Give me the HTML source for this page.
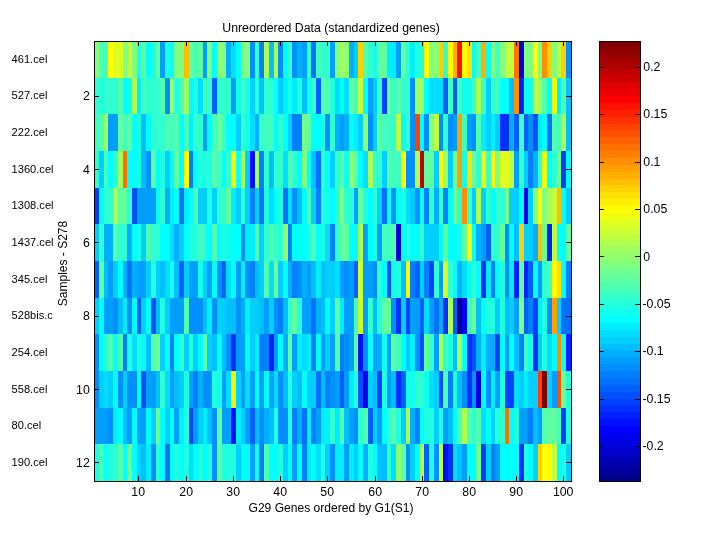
<!DOCTYPE html>
<html><head><meta charset="utf-8"><style>
html,body{margin:0;padding:0;background:#fff;width:720px;height:540px;overflow:hidden}
svg{display:block;will-change:transform}
</style></head><body>
<svg width="720" height="540" viewBox="0 0 720 540" shape-rendering="crispEdges">
<rect width="720" height="540" fill="#fff"/>
<g><rect x="94" y="41" width="5" height="37" fill="#80ff80"/>
<rect x="99" y="41" width="5" height="37" fill="#50ffaf"/>
<rect x="104" y="41" width="4" height="37" fill="#40ffbf"/>
<rect x="108" y="41" width="5" height="37" fill="#ffff00"/>
<rect x="113" y="41" width="5" height="37" fill="#dfff20"/>
<rect x="118" y="41" width="5" height="37" fill="#dfff20"/>
<rect x="123" y="41" width="4" height="37" fill="#80ff80"/>
<rect x="127" y="41" width="5" height="37" fill="#bfff40"/>
<rect x="132" y="41" width="5" height="37" fill="#80ff80"/>
<rect x="137" y="41" width="4" height="37" fill="#20ffdf"/>
<rect x="141" y="41" width="5" height="37" fill="#60ff9f"/>
<rect x="146" y="41" width="5" height="37" fill="#00ffff"/>
<rect x="151" y="41" width="5" height="37" fill="#20ffdf"/>
<rect x="156" y="41" width="4" height="37" fill="#60ff9f"/>
<rect x="160" y="41" width="5" height="37" fill="#009fff"/>
<rect x="165" y="41" width="5" height="37" fill="#20ffdf"/>
<rect x="170" y="41" width="4" height="37" fill="#00ffff"/>
<rect x="174" y="41" width="5" height="37" fill="#80ff80"/>
<rect x="179" y="41" width="5" height="37" fill="#80ff80"/>
<rect x="184" y="41" width="5" height="37" fill="#ffbf00"/>
<rect x="189" y="41" width="4" height="37" fill="#60ff9f"/>
<rect x="193" y="41" width="5" height="37" fill="#40ffbf"/>
<rect x="198" y="41" width="5" height="37" fill="#60ff9f"/>
<rect x="203" y="41" width="4" height="37" fill="#009fff"/>
<rect x="207" y="41" width="5" height="37" fill="#80ff80"/>
<rect x="212" y="41" width="5" height="37" fill="#00ffff"/>
<rect x="217" y="41" width="5" height="37" fill="#8fff70"/>
<rect x="222" y="41" width="4" height="37" fill="#80ff80"/>
<rect x="226" y="41" width="5" height="37" fill="#00afff"/>
<rect x="231" y="41" width="5" height="37" fill="#00dfff"/>
<rect x="236" y="41" width="5" height="37" fill="#00ffff"/>
<rect x="241" y="41" width="4" height="37" fill="#80ff80"/>
<rect x="245" y="41" width="5" height="37" fill="#80ff80"/>
<rect x="250" y="41" width="5" height="37" fill="#008fff"/>
<rect x="255" y="41" width="4" height="37" fill="#30ffcf"/>
<rect x="259" y="41" width="5" height="37" fill="#0080ff"/>
<rect x="264" y="41" width="5" height="37" fill="#afff50"/>
<rect x="269" y="41" width="5" height="37" fill="#00bfff"/>
<rect x="274" y="41" width="4" height="37" fill="#afff50"/>
<rect x="278" y="41" width="5" height="37" fill="#008fff"/>
<rect x="283" y="41" width="5" height="37" fill="#00ffff"/>
<rect x="288" y="41" width="4" height="37" fill="#30ffcf"/>
<rect x="292" y="41" width="5" height="37" fill="#008fff"/>
<rect x="297" y="41" width="5" height="37" fill="#00afff"/>
<rect x="302" y="41" width="5" height="37" fill="#009fff"/>
<rect x="307" y="41" width="4" height="37" fill="#30ffcf"/>
<rect x="311" y="41" width="5" height="37" fill="#0070ff"/>
<rect x="316" y="41" width="5" height="37" fill="#40ffbf"/>
<rect x="321" y="41" width="4" height="37" fill="#30ffcf"/>
<rect x="325" y="41" width="5" height="37" fill="#30ffcf"/>
<rect x="330" y="41" width="5" height="37" fill="#009fff"/>
<rect x="335" y="41" width="5" height="37" fill="#80ff80"/>
<rect x="340" y="41" width="4" height="37" fill="#9fff60"/>
<rect x="344" y="41" width="5" height="37" fill="#8fff70"/>
<rect x="349" y="41" width="5" height="37" fill="#00afff"/>
<rect x="354" y="41" width="4" height="37" fill="#00cfff"/>
<rect x="358" y="41" width="5" height="37" fill="#ffcf00"/>
<rect x="363" y="41" width="5" height="37" fill="#50ffaf"/>
<rect x="368" y="41" width="5" height="37" fill="#30ffcf"/>
<rect x="373" y="41" width="4" height="37" fill="#10ffef"/>
<rect x="377" y="41" width="5" height="37" fill="#60ff9f"/>
<rect x="382" y="41" width="5" height="37" fill="#60ff9f"/>
<rect x="387" y="41" width="4" height="37" fill="#00efff"/>
<rect x="391" y="41" width="5" height="37" fill="#00efff"/>
<rect x="396" y="41" width="5" height="37" fill="#009fff"/>
<rect x="401" y="41" width="5" height="37" fill="#60ff9f"/>
<rect x="406" y="41" width="4" height="37" fill="#30ffcf"/>
<rect x="410" y="41" width="5" height="37" fill="#00efff"/>
<rect x="415" y="41" width="5" height="37" fill="#20ffdf"/>
<rect x="420" y="41" width="4" height="37" fill="#20ffdf"/>
<rect x="424" y="41" width="5" height="37" fill="#ffff00"/>
<rect x="429" y="41" width="5" height="37" fill="#80ff80"/>
<rect x="434" y="41" width="5" height="37" fill="#8fff70"/>
<rect x="439" y="41" width="4" height="37" fill="#ffcf00"/>
<rect x="443" y="41" width="5" height="37" fill="#30ffcf"/>
<rect x="448" y="41" width="5" height="37" fill="#ffff00"/>
<rect x="453" y="41" width="4" height="37" fill="#ffaf00"/>
<rect x="457" y="41" width="5" height="37" fill="#ff1000"/>
<rect x="462" y="41" width="5" height="37" fill="#ffff00"/>
<rect x="467" y="41" width="5" height="37" fill="#ffdf00"/>
<rect x="472" y="41" width="4" height="37" fill="#00ffff"/>
<rect x="476" y="41" width="5" height="37" fill="#40ffbf"/>
<rect x="481" y="41" width="5" height="37" fill="#ffaf00"/>
<rect x="486" y="41" width="5" height="37" fill="#10ffef"/>
<rect x="491" y="41" width="4" height="37" fill="#80ff80"/>
<rect x="495" y="41" width="5" height="37" fill="#40ffbf"/>
<rect x="500" y="41" width="5" height="37" fill="#80ff80"/>
<rect x="505" y="41" width="4" height="37" fill="#bfff40"/>
<rect x="509" y="41" width="5" height="37" fill="#bfff40"/>
<rect x="514" y="41" width="5" height="37" fill="#ff7000"/>
<rect x="519" y="41" width="5" height="37" fill="#0000df"/>
<rect x="524" y="41" width="4" height="37" fill="#80ff80"/>
<rect x="528" y="41" width="5" height="37" fill="#80ff80"/>
<rect x="533" y="41" width="5" height="37" fill="#ffff00"/>
<rect x="538" y="41" width="4" height="37" fill="#80ff80"/>
<rect x="542" y="41" width="5" height="37" fill="#ff8f00"/>
<rect x="547" y="41" width="5" height="37" fill="#ffcf00"/>
<rect x="552" y="41" width="5" height="37" fill="#80ff80"/>
<rect x="557" y="41" width="4" height="37" fill="#bfff40"/>
<rect x="561" y="41" width="5" height="37" fill="#ffcf00"/>
<rect x="566" y="41" width="5" height="37" fill="#008fff"/>
<rect x="94" y="78" width="5" height="36" fill="#30ffcf"/>
<rect x="99" y="78" width="5" height="36" fill="#20ffdf"/>
<rect x="104" y="78" width="4" height="36" fill="#30ffcf"/>
<rect x="108" y="78" width="5" height="36" fill="#30ffcf"/>
<rect x="113" y="78" width="5" height="36" fill="#30ffcf"/>
<rect x="118" y="78" width="5" height="36" fill="#50ffaf"/>
<rect x="123" y="78" width="4" height="36" fill="#00ffff"/>
<rect x="127" y="78" width="5" height="36" fill="#10ffef"/>
<rect x="132" y="78" width="5" height="36" fill="#afff50"/>
<rect x="137" y="78" width="4" height="36" fill="#00efff"/>
<rect x="141" y="78" width="5" height="36" fill="#40ffbf"/>
<rect x="146" y="78" width="5" height="36" fill="#30ffcf"/>
<rect x="151" y="78" width="5" height="36" fill="#30ffcf"/>
<rect x="156" y="78" width="4" height="36" fill="#30ffcf"/>
<rect x="160" y="78" width="5" height="36" fill="#50ffaf"/>
<rect x="165" y="78" width="5" height="36" fill="#008fff"/>
<rect x="170" y="78" width="4" height="36" fill="#9fff60"/>
<rect x="174" y="78" width="5" height="36" fill="#20ffdf"/>
<rect x="179" y="78" width="5" height="36" fill="#50ffaf"/>
<rect x="184" y="78" width="5" height="36" fill="#9fff60"/>
<rect x="189" y="78" width="4" height="36" fill="#00ffff"/>
<rect x="193" y="78" width="5" height="36" fill="#20ffdf"/>
<rect x="198" y="78" width="5" height="36" fill="#00dfff"/>
<rect x="203" y="78" width="4" height="36" fill="#40ffbf"/>
<rect x="207" y="78" width="5" height="36" fill="#30ffcf"/>
<rect x="212" y="78" width="5" height="36" fill="#0060ff"/>
<rect x="217" y="78" width="5" height="36" fill="#30ffcf"/>
<rect x="222" y="78" width="4" height="36" fill="#30ffcf"/>
<rect x="226" y="78" width="5" height="36" fill="#30ffcf"/>
<rect x="231" y="78" width="5" height="36" fill="#009fff"/>
<rect x="236" y="78" width="5" height="36" fill="#10ffef"/>
<rect x="241" y="78" width="4" height="36" fill="#40ffbf"/>
<rect x="245" y="78" width="5" height="36" fill="#10ffef"/>
<rect x="250" y="78" width="5" height="36" fill="#00cfff"/>
<rect x="255" y="78" width="4" height="36" fill="#20ffdf"/>
<rect x="259" y="78" width="5" height="36" fill="#00bfff"/>
<rect x="264" y="78" width="5" height="36" fill="#30ffcf"/>
<rect x="269" y="78" width="5" height="36" fill="#30ffcf"/>
<rect x="274" y="78" width="4" height="36" fill="#00ffff"/>
<rect x="278" y="78" width="5" height="36" fill="#00cfff"/>
<rect x="283" y="78" width="5" height="36" fill="#00efff"/>
<rect x="288" y="78" width="4" height="36" fill="#10ffef"/>
<rect x="292" y="78" width="5" height="36" fill="#00efff"/>
<rect x="297" y="78" width="5" height="36" fill="#20ffdf"/>
<rect x="302" y="78" width="5" height="36" fill="#00bfff"/>
<rect x="307" y="78" width="4" height="36" fill="#10ffef"/>
<rect x="311" y="78" width="5" height="36" fill="#30ffcf"/>
<rect x="316" y="78" width="5" height="36" fill="#0060ff"/>
<rect x="321" y="78" width="4" height="36" fill="#50ffaf"/>
<rect x="325" y="78" width="5" height="36" fill="#50ffaf"/>
<rect x="330" y="78" width="5" height="36" fill="#20ffdf"/>
<rect x="335" y="78" width="5" height="36" fill="#00dfff"/>
<rect x="340" y="78" width="4" height="36" fill="#00ffff"/>
<rect x="344" y="78" width="5" height="36" fill="#00dfff"/>
<rect x="349" y="78" width="5" height="36" fill="#60ff9f"/>
<rect x="354" y="78" width="4" height="36" fill="#40ffbf"/>
<rect x="358" y="78" width="5" height="36" fill="#cfff30"/>
<rect x="363" y="78" width="5" height="36" fill="#00ffff"/>
<rect x="368" y="78" width="5" height="36" fill="#009fff"/>
<rect x="373" y="78" width="4" height="36" fill="#00cfff"/>
<rect x="377" y="78" width="5" height="36" fill="#30ffcf"/>
<rect x="382" y="78" width="5" height="36" fill="#0040ff"/>
<rect x="387" y="78" width="4" height="36" fill="#60ff9f"/>
<rect x="391" y="78" width="5" height="36" fill="#30ffcf"/>
<rect x="396" y="78" width="5" height="36" fill="#50ffaf"/>
<rect x="401" y="78" width="5" height="36" fill="#30ffcf"/>
<rect x="406" y="78" width="4" height="36" fill="#30ffcf"/>
<rect x="410" y="78" width="5" height="36" fill="#008fff"/>
<rect x="415" y="78" width="5" height="36" fill="#9fff60"/>
<rect x="420" y="78" width="4" height="36" fill="#9fff60"/>
<rect x="424" y="78" width="5" height="36" fill="#00ffff"/>
<rect x="429" y="78" width="5" height="36" fill="#00dfff"/>
<rect x="434" y="78" width="5" height="36" fill="#00dfff"/>
<rect x="439" y="78" width="4" height="36" fill="#00dfff"/>
<rect x="443" y="78" width="5" height="36" fill="#0060ff"/>
<rect x="448" y="78" width="5" height="36" fill="#40ffbf"/>
<rect x="453" y="78" width="4" height="36" fill="#0060ff"/>
<rect x="457" y="78" width="5" height="36" fill="#40ffbf"/>
<rect x="462" y="78" width="5" height="36" fill="#10ffef"/>
<rect x="467" y="78" width="5" height="36" fill="#10ffef"/>
<rect x="472" y="78" width="4" height="36" fill="#40ffbf"/>
<rect x="476" y="78" width="5" height="36" fill="#afff50"/>
<rect x="481" y="78" width="5" height="36" fill="#40ffbf"/>
<rect x="486" y="78" width="5" height="36" fill="#00cfff"/>
<rect x="491" y="78" width="4" height="36" fill="#30ffcf"/>
<rect x="495" y="78" width="5" height="36" fill="#40ffbf"/>
<rect x="500" y="78" width="5" height="36" fill="#00ffff"/>
<rect x="505" y="78" width="4" height="36" fill="#00ffff"/>
<rect x="509" y="78" width="5" height="36" fill="#00bfff"/>
<rect x="514" y="78" width="5" height="36" fill="#ff8f00"/>
<rect x="519" y="78" width="5" height="36" fill="#0020ff"/>
<rect x="524" y="78" width="4" height="36" fill="#10ffef"/>
<rect x="528" y="78" width="5" height="36" fill="#10ffef"/>
<rect x="533" y="78" width="5" height="36" fill="#bfff40"/>
<rect x="538" y="78" width="4" height="36" fill="#9fff60"/>
<rect x="542" y="78" width="5" height="36" fill="#50ffaf"/>
<rect x="547" y="78" width="5" height="36" fill="#00ffff"/>
<rect x="552" y="78" width="5" height="36" fill="#efff10"/>
<rect x="557" y="78" width="4" height="36" fill="#00efff"/>
<rect x="561" y="78" width="5" height="36" fill="#50ffaf"/>
<rect x="566" y="78" width="5" height="36" fill="#00bfff"/>
<rect x="94" y="114" width="5" height="37" fill="#40ffbf"/>
<rect x="99" y="114" width="5" height="37" fill="#50ffaf"/>
<rect x="104" y="114" width="4" height="37" fill="#9fff60"/>
<rect x="108" y="114" width="5" height="37" fill="#009fff"/>
<rect x="113" y="114" width="5" height="37" fill="#009fff"/>
<rect x="118" y="114" width="5" height="37" fill="#60ff9f"/>
<rect x="123" y="114" width="4" height="37" fill="#40ffbf"/>
<rect x="127" y="114" width="5" height="37" fill="#60ff9f"/>
<rect x="132" y="114" width="5" height="37" fill="#00ffff"/>
<rect x="137" y="114" width="4" height="37" fill="#20ffdf"/>
<rect x="141" y="114" width="5" height="37" fill="#00bfff"/>
<rect x="146" y="114" width="5" height="37" fill="#00ffff"/>
<rect x="151" y="114" width="5" height="37" fill="#30ffcf"/>
<rect x="156" y="114" width="4" height="37" fill="#30ffcf"/>
<rect x="160" y="114" width="5" height="37" fill="#30ffcf"/>
<rect x="165" y="114" width="5" height="37" fill="#50ffaf"/>
<rect x="170" y="114" width="4" height="37" fill="#40ffbf"/>
<rect x="174" y="114" width="5" height="37" fill="#50ffaf"/>
<rect x="179" y="114" width="5" height="37" fill="#00ffff"/>
<rect x="184" y="114" width="5" height="37" fill="#40ffbf"/>
<rect x="189" y="114" width="4" height="37" fill="#00efff"/>
<rect x="193" y="114" width="5" height="37" fill="#30ffcf"/>
<rect x="198" y="114" width="5" height="37" fill="#30ffcf"/>
<rect x="203" y="114" width="4" height="37" fill="#009fff"/>
<rect x="207" y="114" width="5" height="37" fill="#00ffff"/>
<rect x="212" y="114" width="5" height="37" fill="#40ffbf"/>
<rect x="217" y="114" width="5" height="37" fill="#70ff8f"/>
<rect x="222" y="114" width="4" height="37" fill="#40ffbf"/>
<rect x="226" y="114" width="5" height="37" fill="#00ffff"/>
<rect x="231" y="114" width="5" height="37" fill="#00ffff"/>
<rect x="236" y="114" width="5" height="37" fill="#00cfff"/>
<rect x="241" y="114" width="4" height="37" fill="#30ffcf"/>
<rect x="245" y="114" width="5" height="37" fill="#10ffef"/>
<rect x="250" y="114" width="5" height="37" fill="#00dfff"/>
<rect x="255" y="114" width="4" height="37" fill="#00afff"/>
<rect x="259" y="114" width="5" height="37" fill="#30ffcf"/>
<rect x="264" y="114" width="5" height="37" fill="#40ffbf"/>
<rect x="269" y="114" width="5" height="37" fill="#40ffbf"/>
<rect x="274" y="114" width="4" height="37" fill="#00ffff"/>
<rect x="278" y="114" width="5" height="37" fill="#30ffcf"/>
<rect x="283" y="114" width="5" height="37" fill="#00ffff"/>
<rect x="288" y="114" width="4" height="37" fill="#00cfff"/>
<rect x="292" y="114" width="5" height="37" fill="#0080ff"/>
<rect x="297" y="114" width="5" height="37" fill="#0080ff"/>
<rect x="302" y="114" width="5" height="37" fill="#70ff8f"/>
<rect x="307" y="114" width="4" height="37" fill="#60ff9f"/>
<rect x="311" y="114" width="5" height="37" fill="#00ffff"/>
<rect x="316" y="114" width="5" height="37" fill="#00ffff"/>
<rect x="321" y="114" width="4" height="37" fill="#20ffdf"/>
<rect x="325" y="114" width="5" height="37" fill="#008fff"/>
<rect x="330" y="114" width="5" height="37" fill="#30ffcf"/>
<rect x="335" y="114" width="5" height="37" fill="#00afff"/>
<rect x="340" y="114" width="4" height="37" fill="#009fff"/>
<rect x="344" y="114" width="5" height="37" fill="#00afff"/>
<rect x="349" y="114" width="5" height="37" fill="#00ffff"/>
<rect x="354" y="114" width="4" height="37" fill="#00efff"/>
<rect x="358" y="114" width="5" height="37" fill="#00cfff"/>
<rect x="363" y="114" width="5" height="37" fill="#8fff70"/>
<rect x="368" y="114" width="5" height="37" fill="#008fff"/>
<rect x="373" y="114" width="4" height="37" fill="#00cfff"/>
<rect x="377" y="114" width="5" height="37" fill="#60ff9f"/>
<rect x="382" y="114" width="5" height="37" fill="#40ffbf"/>
<rect x="387" y="114" width="4" height="37" fill="#40ffbf"/>
<rect x="391" y="114" width="5" height="37" fill="#30ffcf"/>
<rect x="396" y="114" width="5" height="37" fill="#bfff40"/>
<rect x="401" y="114" width="5" height="37" fill="#00ffff"/>
<rect x="406" y="114" width="4" height="37" fill="#30ffcf"/>
<rect x="410" y="114" width="5" height="37" fill="#008fff"/>
<rect x="415" y="114" width="5" height="37" fill="#ff4000"/>
<rect x="420" y="114" width="4" height="37" fill="#00ffff"/>
<rect x="424" y="114" width="5" height="37" fill="#008fff"/>
<rect x="429" y="114" width="5" height="37" fill="#80ff80"/>
<rect x="434" y="114" width="5" height="37" fill="#bfff40"/>
<rect x="439" y="114" width="4" height="37" fill="#008fff"/>
<rect x="443" y="114" width="5" height="37" fill="#30ffcf"/>
<rect x="448" y="114" width="5" height="37" fill="#008fff"/>
<rect x="453" y="114" width="4" height="37" fill="#009fff"/>
<rect x="457" y="114" width="5" height="37" fill="#ff9f00"/>
<rect x="462" y="114" width="5" height="37" fill="#40ffbf"/>
<rect x="467" y="114" width="5" height="37" fill="#009fff"/>
<rect x="472" y="114" width="4" height="37" fill="#008fff"/>
<rect x="476" y="114" width="5" height="37" fill="#50ffaf"/>
<rect x="481" y="114" width="5" height="37" fill="#00efff"/>
<rect x="486" y="114" width="5" height="37" fill="#00cfff"/>
<rect x="491" y="114" width="4" height="37" fill="#00efff"/>
<rect x="495" y="114" width="5" height="37" fill="#00cfff"/>
<rect x="500" y="114" width="5" height="37" fill="#0030ff"/>
<rect x="505" y="114" width="4" height="37" fill="#0030ff"/>
<rect x="509" y="114" width="5" height="37" fill="#00afff"/>
<rect x="514" y="114" width="5" height="37" fill="#0060ff"/>
<rect x="519" y="114" width="5" height="37" fill="#40ffbf"/>
<rect x="524" y="114" width="4" height="37" fill="#0060ff"/>
<rect x="528" y="114" width="5" height="37" fill="#008fff"/>
<rect x="533" y="114" width="5" height="37" fill="#0050ff"/>
<rect x="538" y="114" width="4" height="37" fill="#00efff"/>
<rect x="542" y="114" width="5" height="37" fill="#00ffff"/>
<rect x="547" y="114" width="5" height="37" fill="#0070ff"/>
<rect x="552" y="114" width="5" height="37" fill="#50ffaf"/>
<rect x="557" y="114" width="4" height="37" fill="#40ffbf"/>
<rect x="561" y="114" width="5" height="37" fill="#afff50"/>
<rect x="566" y="114" width="5" height="37" fill="#00bfff"/>
<rect x="94" y="151" width="5" height="37" fill="#30ffcf"/>
<rect x="99" y="151" width="5" height="37" fill="#00cfff"/>
<rect x="104" y="151" width="4" height="37" fill="#40ffbf"/>
<rect x="108" y="151" width="5" height="37" fill="#00ffff"/>
<rect x="113" y="151" width="5" height="37" fill="#30ffcf"/>
<rect x="118" y="151" width="5" height="37" fill="#9fff60"/>
<rect x="123" y="151" width="4" height="37" fill="#ff7000"/>
<rect x="127" y="151" width="5" height="37" fill="#00ffff"/>
<rect x="132" y="151" width="5" height="37" fill="#00ffff"/>
<rect x="137" y="151" width="4" height="37" fill="#20ffdf"/>
<rect x="141" y="151" width="5" height="37" fill="#00bfff"/>
<rect x="146" y="151" width="5" height="37" fill="#008fff"/>
<rect x="151" y="151" width="5" height="37" fill="#60ff9f"/>
<rect x="156" y="151" width="4" height="37" fill="#00ffff"/>
<rect x="160" y="151" width="5" height="37" fill="#20ffdf"/>
<rect x="165" y="151" width="5" height="37" fill="#00cfff"/>
<rect x="170" y="151" width="4" height="37" fill="#00ffff"/>
<rect x="174" y="151" width="5" height="37" fill="#60ff9f"/>
<rect x="179" y="151" width="5" height="37" fill="#00ffff"/>
<rect x="184" y="151" width="5" height="37" fill="#ffff00"/>
<rect x="189" y="151" width="4" height="37" fill="#0080ff"/>
<rect x="193" y="151" width="5" height="37" fill="#00ffff"/>
<rect x="198" y="151" width="5" height="37" fill="#20ffdf"/>
<rect x="203" y="151" width="4" height="37" fill="#20ffdf"/>
<rect x="207" y="151" width="5" height="37" fill="#20ffdf"/>
<rect x="212" y="151" width="5" height="37" fill="#50ffaf"/>
<rect x="217" y="151" width="5" height="37" fill="#40ffbf"/>
<rect x="222" y="151" width="4" height="37" fill="#00ffff"/>
<rect x="226" y="151" width="5" height="37" fill="#30ffcf"/>
<rect x="231" y="151" width="5" height="37" fill="#ffff00"/>
<rect x="236" y="151" width="5" height="37" fill="#10ffef"/>
<rect x="241" y="151" width="4" height="37" fill="#afff50"/>
<rect x="245" y="151" width="5" height="37" fill="#00cfff"/>
<rect x="250" y="151" width="5" height="37" fill="#0010ff"/>
<rect x="255" y="151" width="4" height="37" fill="#9fff60"/>
<rect x="259" y="151" width="5" height="37" fill="#0080ff"/>
<rect x="264" y="151" width="5" height="37" fill="#30ffcf"/>
<rect x="269" y="151" width="5" height="37" fill="#00bfff"/>
<rect x="274" y="151" width="4" height="37" fill="#30ffcf"/>
<rect x="278" y="151" width="5" height="37" fill="#30ffcf"/>
<rect x="283" y="151" width="5" height="37" fill="#00dfff"/>
<rect x="288" y="151" width="4" height="37" fill="#50ffaf"/>
<rect x="292" y="151" width="5" height="37" fill="#30ffcf"/>
<rect x="297" y="151" width="5" height="37" fill="#00ffff"/>
<rect x="302" y="151" width="5" height="37" fill="#80ff80"/>
<rect x="307" y="151" width="4" height="37" fill="#00ffff"/>
<rect x="311" y="151" width="5" height="37" fill="#00bfff"/>
<rect x="316" y="151" width="5" height="37" fill="#0070ff"/>
<rect x="321" y="151" width="4" height="37" fill="#30ffcf"/>
<rect x="325" y="151" width="5" height="37" fill="#00ffff"/>
<rect x="330" y="151" width="5" height="37" fill="#00cfff"/>
<rect x="335" y="151" width="5" height="37" fill="#30ffcf"/>
<rect x="340" y="151" width="4" height="37" fill="#50ffaf"/>
<rect x="344" y="151" width="5" height="37" fill="#10ffef"/>
<rect x="349" y="151" width="5" height="37" fill="#8fff70"/>
<rect x="354" y="151" width="4" height="37" fill="#60ff9f"/>
<rect x="358" y="151" width="5" height="37" fill="#00ffff"/>
<rect x="363" y="151" width="5" height="37" fill="#00dfff"/>
<rect x="368" y="151" width="5" height="37" fill="#afff50"/>
<rect x="373" y="151" width="4" height="37" fill="#30ffcf"/>
<rect x="377" y="151" width="5" height="37" fill="#30ffcf"/>
<rect x="382" y="151" width="5" height="37" fill="#00cfff"/>
<rect x="387" y="151" width="4" height="37" fill="#50ffaf"/>
<rect x="391" y="151" width="5" height="37" fill="#40ffbf"/>
<rect x="396" y="151" width="5" height="37" fill="#40ffbf"/>
<rect x="401" y="151" width="5" height="37" fill="#ffff00"/>
<rect x="406" y="151" width="4" height="37" fill="#008fff"/>
<rect x="410" y="151" width="5" height="37" fill="#008fff"/>
<rect x="415" y="151" width="5" height="37" fill="#afff50"/>
<rect x="420" y="151" width="4" height="37" fill="#bf0000"/>
<rect x="424" y="151" width="5" height="37" fill="#60ff9f"/>
<rect x="429" y="151" width="5" height="37" fill="#60ff9f"/>
<rect x="434" y="151" width="5" height="37" fill="#00cfff"/>
<rect x="439" y="151" width="4" height="37" fill="#ffff00"/>
<rect x="443" y="151" width="5" height="37" fill="#9fff60"/>
<rect x="448" y="151" width="5" height="37" fill="#00cfff"/>
<rect x="453" y="151" width="4" height="37" fill="#70ff8f"/>
<rect x="457" y="151" width="5" height="37" fill="#ff9f00"/>
<rect x="462" y="151" width="5" height="37" fill="#10ffef"/>
<rect x="467" y="151" width="5" height="37" fill="#ffdf00"/>
<rect x="472" y="151" width="4" height="37" fill="#60ff9f"/>
<rect x="476" y="151" width="5" height="37" fill="#30ffcf"/>
<rect x="481" y="151" width="5" height="37" fill="#efff10"/>
<rect x="486" y="151" width="5" height="37" fill="#40ffbf"/>
<rect x="491" y="151" width="4" height="37" fill="#ffff00"/>
<rect x="495" y="151" width="5" height="37" fill="#80ff80"/>
<rect x="500" y="151" width="5" height="37" fill="#dfff20"/>
<rect x="505" y="151" width="4" height="37" fill="#dfff20"/>
<rect x="509" y="151" width="5" height="37" fill="#bfff40"/>
<rect x="514" y="151" width="5" height="37" fill="#009fff"/>
<rect x="519" y="151" width="5" height="37" fill="#30ffcf"/>
<rect x="524" y="151" width="4" height="37" fill="#00cfff"/>
<rect x="528" y="151" width="5" height="37" fill="#0080ff"/>
<rect x="533" y="151" width="5" height="37" fill="#00afff"/>
<rect x="538" y="151" width="4" height="37" fill="#30ffcf"/>
<rect x="542" y="151" width="5" height="37" fill="#efff10"/>
<rect x="547" y="151" width="5" height="37" fill="#00ffff"/>
<rect x="552" y="151" width="5" height="37" fill="#30ffcf"/>
<rect x="557" y="151" width="4" height="37" fill="#70ff8f"/>
<rect x="561" y="151" width="5" height="37" fill="#0040ff"/>
<rect x="566" y="151" width="5" height="37" fill="#00ffff"/>
<rect x="94" y="188" width="5" height="36" fill="#0040ff"/>
<rect x="99" y="188" width="5" height="36" fill="#00ffff"/>
<rect x="104" y="188" width="4" height="36" fill="#30ffcf"/>
<rect x="108" y="188" width="5" height="36" fill="#30ffcf"/>
<rect x="113" y="188" width="5" height="36" fill="#afff50"/>
<rect x="118" y="188" width="5" height="36" fill="#60ff9f"/>
<rect x="123" y="188" width="4" height="36" fill="#60ff9f"/>
<rect x="127" y="188" width="5" height="36" fill="#30ffcf"/>
<rect x="132" y="188" width="5" height="36" fill="#0050ff"/>
<rect x="137" y="188" width="4" height="36" fill="#009fff"/>
<rect x="141" y="188" width="5" height="36" fill="#009fff"/>
<rect x="146" y="188" width="5" height="36" fill="#009fff"/>
<rect x="151" y="188" width="5" height="36" fill="#009fff"/>
<rect x="156" y="188" width="4" height="36" fill="#00ffff"/>
<rect x="160" y="188" width="5" height="36" fill="#30ffcf"/>
<rect x="165" y="188" width="5" height="36" fill="#00afff"/>
<rect x="170" y="188" width="4" height="36" fill="#00efff"/>
<rect x="174" y="188" width="5" height="36" fill="#00ffff"/>
<rect x="179" y="188" width="5" height="36" fill="#0070ff"/>
<rect x="184" y="188" width="5" height="36" fill="#00efff"/>
<rect x="189" y="188" width="4" height="36" fill="#00ffff"/>
<rect x="193" y="188" width="5" height="36" fill="#50ffaf"/>
<rect x="198" y="188" width="5" height="36" fill="#00cfff"/>
<rect x="203" y="188" width="4" height="36" fill="#00cfff"/>
<rect x="207" y="188" width="5" height="36" fill="#20ffdf"/>
<rect x="212" y="188" width="5" height="36" fill="#00cfff"/>
<rect x="217" y="188" width="5" height="36" fill="#30ffcf"/>
<rect x="222" y="188" width="4" height="36" fill="#30ffcf"/>
<rect x="226" y="188" width="5" height="36" fill="#60ff9f"/>
<rect x="231" y="188" width="5" height="36" fill="#00efff"/>
<rect x="236" y="188" width="5" height="36" fill="#00cfff"/>
<rect x="241" y="188" width="4" height="36" fill="#30ffcf"/>
<rect x="245" y="188" width="5" height="36" fill="#00cfff"/>
<rect x="250" y="188" width="5" height="36" fill="#0080ff"/>
<rect x="255" y="188" width="4" height="36" fill="#00cfff"/>
<rect x="259" y="188" width="5" height="36" fill="#0070ff"/>
<rect x="264" y="188" width="5" height="36" fill="#20ffdf"/>
<rect x="269" y="188" width="5" height="36" fill="#00dfff"/>
<rect x="274" y="188" width="4" height="36" fill="#00ffff"/>
<rect x="278" y="188" width="5" height="36" fill="#20ffdf"/>
<rect x="283" y="188" width="5" height="36" fill="#0070ff"/>
<rect x="288" y="188" width="4" height="36" fill="#00dfff"/>
<rect x="292" y="188" width="5" height="36" fill="#008fff"/>
<rect x="297" y="188" width="5" height="36" fill="#00bfff"/>
<rect x="302" y="188" width="5" height="36" fill="#00ffff"/>
<rect x="307" y="188" width="4" height="36" fill="#50ffaf"/>
<rect x="311" y="188" width="5" height="36" fill="#00cfff"/>
<rect x="316" y="188" width="5" height="36" fill="#0080ff"/>
<rect x="321" y="188" width="4" height="36" fill="#20ffdf"/>
<rect x="325" y="188" width="5" height="36" fill="#10ffef"/>
<rect x="330" y="188" width="5" height="36" fill="#00ffff"/>
<rect x="335" y="188" width="5" height="36" fill="#30ffcf"/>
<rect x="340" y="188" width="4" height="36" fill="#80ff80"/>
<rect x="344" y="188" width="5" height="36" fill="#30ffcf"/>
<rect x="349" y="188" width="5" height="36" fill="#20ffdf"/>
<rect x="354" y="188" width="4" height="36" fill="#009fff"/>
<rect x="358" y="188" width="5" height="36" fill="#60ff9f"/>
<rect x="363" y="188" width="5" height="36" fill="#20ffdf"/>
<rect x="368" y="188" width="5" height="36" fill="#00ffff"/>
<rect x="373" y="188" width="4" height="36" fill="#30ffcf"/>
<rect x="377" y="188" width="5" height="36" fill="#00cfff"/>
<rect x="382" y="188" width="5" height="36" fill="#0070ff"/>
<rect x="387" y="188" width="4" height="36" fill="#00ffff"/>
<rect x="391" y="188" width="5" height="36" fill="#008fff"/>
<rect x="396" y="188" width="5" height="36" fill="#00ffff"/>
<rect x="401" y="188" width="5" height="36" fill="#20ffdf"/>
<rect x="406" y="188" width="4" height="36" fill="#00dfff"/>
<rect x="410" y="188" width="5" height="36" fill="#00cfff"/>
<rect x="415" y="188" width="5" height="36" fill="#008fff"/>
<rect x="420" y="188" width="4" height="36" fill="#00ffff"/>
<rect x="424" y="188" width="5" height="36" fill="#0080ff"/>
<rect x="429" y="188" width="5" height="36" fill="#30ffcf"/>
<rect x="434" y="188" width="5" height="36" fill="#00afff"/>
<rect x="439" y="188" width="4" height="36" fill="#30ffcf"/>
<rect x="443" y="188" width="5" height="36" fill="#0080ff"/>
<rect x="448" y="188" width="5" height="36" fill="#00ffff"/>
<rect x="453" y="188" width="4" height="36" fill="#70ff8f"/>
<rect x="457" y="188" width="5" height="36" fill="#30ffcf"/>
<rect x="462" y="188" width="5" height="36" fill="#ff8f00"/>
<rect x="467" y="188" width="5" height="36" fill="#30ffcf"/>
<rect x="472" y="188" width="4" height="36" fill="#00cfff"/>
<rect x="476" y="188" width="5" height="36" fill="#afff50"/>
<rect x="481" y="188" width="5" height="36" fill="#00cfff"/>
<rect x="486" y="188" width="5" height="36" fill="#30ffcf"/>
<rect x="491" y="188" width="4" height="36" fill="#00ffff"/>
<rect x="495" y="188" width="5" height="36" fill="#30ffcf"/>
<rect x="500" y="188" width="5" height="36" fill="#30ffcf"/>
<rect x="505" y="188" width="4" height="36" fill="#80ff80"/>
<rect x="509" y="188" width="5" height="36" fill="#00cfff"/>
<rect x="514" y="188" width="5" height="36" fill="#00cfff"/>
<rect x="519" y="188" width="5" height="36" fill="#00ffff"/>
<rect x="524" y="188" width="4" height="36" fill="#0000ef"/>
<rect x="528" y="188" width="5" height="36" fill="#00cfff"/>
<rect x="533" y="188" width="5" height="36" fill="#80ff80"/>
<rect x="538" y="188" width="4" height="36" fill="#ffff00"/>
<rect x="542" y="188" width="5" height="36" fill="#80ff80"/>
<rect x="547" y="188" width="5" height="36" fill="#afff50"/>
<rect x="552" y="188" width="5" height="36" fill="#bfff40"/>
<rect x="557" y="188" width="4" height="36" fill="#ffbf00"/>
<rect x="561" y="188" width="5" height="36" fill="#00ffff"/>
<rect x="566" y="188" width="5" height="36" fill="#00cfff"/>
<rect x="94" y="224" width="5" height="37" fill="#00cfff"/>
<rect x="99" y="224" width="5" height="37" fill="#30ffcf"/>
<rect x="104" y="224" width="4" height="37" fill="#00afff"/>
<rect x="108" y="224" width="5" height="37" fill="#00afff"/>
<rect x="113" y="224" width="5" height="37" fill="#50ffaf"/>
<rect x="118" y="224" width="5" height="37" fill="#30ffcf"/>
<rect x="123" y="224" width="4" height="37" fill="#30ffcf"/>
<rect x="127" y="224" width="5" height="37" fill="#00afff"/>
<rect x="132" y="224" width="5" height="37" fill="#00ffff"/>
<rect x="137" y="224" width="4" height="37" fill="#20ffdf"/>
<rect x="141" y="224" width="5" height="37" fill="#00cfff"/>
<rect x="146" y="224" width="5" height="37" fill="#50ffaf"/>
<rect x="151" y="224" width="5" height="37" fill="#30ffcf"/>
<rect x="156" y="224" width="4" height="37" fill="#30ffcf"/>
<rect x="160" y="224" width="5" height="37" fill="#00ffff"/>
<rect x="165" y="224" width="5" height="37" fill="#00ffff"/>
<rect x="170" y="224" width="4" height="37" fill="#00dfff"/>
<rect x="174" y="224" width="5" height="37" fill="#00afff"/>
<rect x="179" y="224" width="5" height="37" fill="#00cfff"/>
<rect x="184" y="224" width="5" height="37" fill="#00ffff"/>
<rect x="189" y="224" width="4" height="37" fill="#20ffdf"/>
<rect x="193" y="224" width="5" height="37" fill="#20ffdf"/>
<rect x="198" y="224" width="5" height="37" fill="#40ffbf"/>
<rect x="203" y="224" width="4" height="37" fill="#20ffdf"/>
<rect x="207" y="224" width="5" height="37" fill="#00ffff"/>
<rect x="212" y="224" width="5" height="37" fill="#50ffaf"/>
<rect x="217" y="224" width="5" height="37" fill="#00ffff"/>
<rect x="222" y="224" width="4" height="37" fill="#20ffdf"/>
<rect x="226" y="224" width="5" height="37" fill="#10ffef"/>
<rect x="231" y="224" width="5" height="37" fill="#00ffff"/>
<rect x="236" y="224" width="5" height="37" fill="#00ffff"/>
<rect x="241" y="224" width="4" height="37" fill="#008fff"/>
<rect x="245" y="224" width="5" height="37" fill="#00efff"/>
<rect x="250" y="224" width="5" height="37" fill="#00efff"/>
<rect x="255" y="224" width="4" height="37" fill="#50ffaf"/>
<rect x="259" y="224" width="5" height="37" fill="#00cfff"/>
<rect x="264" y="224" width="5" height="37" fill="#30ffcf"/>
<rect x="269" y="224" width="5" height="37" fill="#50ffaf"/>
<rect x="274" y="224" width="4" height="37" fill="#30ffcf"/>
<rect x="278" y="224" width="5" height="37" fill="#30ffcf"/>
<rect x="283" y="224" width="5" height="37" fill="#8fff70"/>
<rect x="288" y="224" width="4" height="37" fill="#0080ff"/>
<rect x="292" y="224" width="5" height="37" fill="#00ffff"/>
<rect x="297" y="224" width="5" height="37" fill="#00ffff"/>
<rect x="302" y="224" width="5" height="37" fill="#00ffff"/>
<rect x="307" y="224" width="4" height="37" fill="#20ffdf"/>
<rect x="311" y="224" width="5" height="37" fill="#50ffaf"/>
<rect x="316" y="224" width="5" height="37" fill="#00ffff"/>
<rect x="321" y="224" width="4" height="37" fill="#20ffdf"/>
<rect x="325" y="224" width="5" height="37" fill="#00dfff"/>
<rect x="330" y="224" width="5" height="37" fill="#0080ff"/>
<rect x="335" y="224" width="5" height="37" fill="#30ffcf"/>
<rect x="340" y="224" width="4" height="37" fill="#60ff9f"/>
<rect x="344" y="224" width="5" height="37" fill="#60ff9f"/>
<rect x="349" y="224" width="5" height="37" fill="#00ffff"/>
<rect x="354" y="224" width="4" height="37" fill="#00ffff"/>
<rect x="358" y="224" width="5" height="37" fill="#afff50"/>
<rect x="363" y="224" width="5" height="37" fill="#009fff"/>
<rect x="368" y="224" width="5" height="37" fill="#00ffff"/>
<rect x="373" y="224" width="4" height="37" fill="#20ffdf"/>
<rect x="377" y="224" width="5" height="37" fill="#009fff"/>
<rect x="382" y="224" width="5" height="37" fill="#40ffbf"/>
<rect x="387" y="224" width="4" height="37" fill="#40ffbf"/>
<rect x="391" y="224" width="5" height="37" fill="#50ffaf"/>
<rect x="396" y="224" width="5" height="37" fill="#0000df"/>
<rect x="401" y="224" width="5" height="37" fill="#00ffff"/>
<rect x="406" y="224" width="4" height="37" fill="#20ffdf"/>
<rect x="410" y="224" width="5" height="37" fill="#00ffff"/>
<rect x="415" y="224" width="5" height="37" fill="#00ffff"/>
<rect x="420" y="224" width="4" height="37" fill="#30ffcf"/>
<rect x="424" y="224" width="5" height="37" fill="#00cfff"/>
<rect x="429" y="224" width="5" height="37" fill="#00cfff"/>
<rect x="434" y="224" width="5" height="37" fill="#00cfff"/>
<rect x="439" y="224" width="4" height="37" fill="#00ffff"/>
<rect x="443" y="224" width="5" height="37" fill="#60ff9f"/>
<rect x="448" y="224" width="5" height="37" fill="#00ffff"/>
<rect x="453" y="224" width="4" height="37" fill="#00ffff"/>
<rect x="457" y="224" width="5" height="37" fill="#10ffef"/>
<rect x="462" y="224" width="5" height="37" fill="#60ff9f"/>
<rect x="467" y="224" width="5" height="37" fill="#ffff00"/>
<rect x="472" y="224" width="4" height="37" fill="#00ffff"/>
<rect x="476" y="224" width="5" height="37" fill="#00afff"/>
<rect x="481" y="224" width="5" height="37" fill="#009fff"/>
<rect x="486" y="224" width="5" height="37" fill="#0060ff"/>
<rect x="491" y="224" width="4" height="37" fill="#30ffcf"/>
<rect x="495" y="224" width="5" height="37" fill="#30ffcf"/>
<rect x="500" y="224" width="5" height="37" fill="#60ff9f"/>
<rect x="505" y="224" width="4" height="37" fill="#008fff"/>
<rect x="509" y="224" width="5" height="37" fill="#00ffff"/>
<rect x="514" y="224" width="5" height="37" fill="#00bfff"/>
<rect x="519" y="224" width="5" height="37" fill="#ffcf00"/>
<rect x="524" y="224" width="4" height="37" fill="#00cfff"/>
<rect x="528" y="224" width="5" height="37" fill="#00cfff"/>
<rect x="533" y="224" width="5" height="37" fill="#00afff"/>
<rect x="538" y="224" width="4" height="37" fill="#ffbf00"/>
<rect x="542" y="224" width="5" height="37" fill="#70ff8f"/>
<rect x="547" y="224" width="5" height="37" fill="#0020ff"/>
<rect x="552" y="224" width="5" height="37" fill="#bfff40"/>
<rect x="557" y="224" width="4" height="37" fill="#00ffff"/>
<rect x="561" y="224" width="5" height="37" fill="#00ffff"/>
<rect x="566" y="224" width="5" height="37" fill="#60ff9f"/>
<rect x="94" y="261" width="5" height="37" fill="#0060ff"/>
<rect x="99" y="261" width="5" height="37" fill="#60ff9f"/>
<rect x="104" y="261" width="4" height="37" fill="#00bfff"/>
<rect x="108" y="261" width="5" height="37" fill="#009fff"/>
<rect x="113" y="261" width="5" height="37" fill="#00cfff"/>
<rect x="118" y="261" width="5" height="37" fill="#00ffff"/>
<rect x="123" y="261" width="4" height="37" fill="#00afff"/>
<rect x="127" y="261" width="5" height="37" fill="#0070ff"/>
<rect x="132" y="261" width="5" height="37" fill="#00afff"/>
<rect x="137" y="261" width="4" height="37" fill="#009fff"/>
<rect x="141" y="261" width="5" height="37" fill="#009fff"/>
<rect x="146" y="261" width="5" height="37" fill="#00cfff"/>
<rect x="151" y="261" width="5" height="37" fill="#20ffdf"/>
<rect x="156" y="261" width="4" height="37" fill="#00cfff"/>
<rect x="160" y="261" width="5" height="37" fill="#00bfff"/>
<rect x="165" y="261" width="5" height="37" fill="#00dfff"/>
<rect x="170" y="261" width="4" height="37" fill="#10ffef"/>
<rect x="174" y="261" width="5" height="37" fill="#00bfff"/>
<rect x="179" y="261" width="5" height="37" fill="#0060ff"/>
<rect x="184" y="261" width="5" height="37" fill="#00cfff"/>
<rect x="189" y="261" width="4" height="37" fill="#009fff"/>
<rect x="193" y="261" width="5" height="37" fill="#009fff"/>
<rect x="198" y="261" width="5" height="37" fill="#10ffef"/>
<rect x="203" y="261" width="4" height="37" fill="#00cfff"/>
<rect x="207" y="261" width="5" height="37" fill="#009fff"/>
<rect x="212" y="261" width="5" height="37" fill="#00ffff"/>
<rect x="217" y="261" width="5" height="37" fill="#008fff"/>
<rect x="222" y="261" width="4" height="37" fill="#0060ff"/>
<rect x="226" y="261" width="5" height="37" fill="#00dfff"/>
<rect x="231" y="261" width="5" height="37" fill="#00ffff"/>
<rect x="236" y="261" width="5" height="37" fill="#009fff"/>
<rect x="241" y="261" width="4" height="37" fill="#00efff"/>
<rect x="245" y="261" width="5" height="37" fill="#008fff"/>
<rect x="250" y="261" width="5" height="37" fill="#0080ff"/>
<rect x="255" y="261" width="4" height="37" fill="#00bfff"/>
<rect x="259" y="261" width="5" height="37" fill="#00cfff"/>
<rect x="264" y="261" width="5" height="37" fill="#50ffaf"/>
<rect x="269" y="261" width="5" height="37" fill="#00dfff"/>
<rect x="274" y="261" width="4" height="37" fill="#70ff8f"/>
<rect x="278" y="261" width="5" height="37" fill="#00cfff"/>
<rect x="283" y="261" width="5" height="37" fill="#00ffff"/>
<rect x="288" y="261" width="4" height="37" fill="#00afff"/>
<rect x="292" y="261" width="5" height="37" fill="#0080ff"/>
<rect x="297" y="261" width="5" height="37" fill="#008fff"/>
<rect x="302" y="261" width="5" height="37" fill="#00afff"/>
<rect x="307" y="261" width="4" height="37" fill="#009fff"/>
<rect x="311" y="261" width="5" height="37" fill="#00bfff"/>
<rect x="316" y="261" width="5" height="37" fill="#00efff"/>
<rect x="321" y="261" width="4" height="37" fill="#00bfff"/>
<rect x="325" y="261" width="5" height="37" fill="#00cfff"/>
<rect x="330" y="261" width="5" height="37" fill="#00cfff"/>
<rect x="335" y="261" width="5" height="37" fill="#00dfff"/>
<rect x="340" y="261" width="4" height="37" fill="#009fff"/>
<rect x="344" y="261" width="5" height="37" fill="#008fff"/>
<rect x="349" y="261" width="5" height="37" fill="#009fff"/>
<rect x="354" y="261" width="4" height="37" fill="#0060ff"/>
<rect x="358" y="261" width="5" height="37" fill="#cfff30"/>
<rect x="363" y="261" width="5" height="37" fill="#009fff"/>
<rect x="368" y="261" width="5" height="37" fill="#009fff"/>
<rect x="373" y="261" width="4" height="37" fill="#008fff"/>
<rect x="377" y="261" width="5" height="37" fill="#30ffcf"/>
<rect x="382" y="261" width="5" height="37" fill="#00ffff"/>
<rect x="387" y="261" width="4" height="37" fill="#0050ff"/>
<rect x="391" y="261" width="5" height="37" fill="#10ffef"/>
<rect x="396" y="261" width="5" height="37" fill="#20ffdf"/>
<rect x="401" y="261" width="5" height="37" fill="#00bfff"/>
<rect x="406" y="261" width="4" height="37" fill="#ffff00"/>
<rect x="410" y="261" width="5" height="37" fill="#0080ff"/>
<rect x="415" y="261" width="5" height="37" fill="#0060ff"/>
<rect x="420" y="261" width="4" height="37" fill="#00cfff"/>
<rect x="424" y="261" width="5" height="37" fill="#0080ff"/>
<rect x="429" y="261" width="5" height="37" fill="#0040ff"/>
<rect x="434" y="261" width="5" height="37" fill="#30ffcf"/>
<rect x="439" y="261" width="4" height="37" fill="#009fff"/>
<rect x="443" y="261" width="5" height="37" fill="#dfff20"/>
<rect x="448" y="261" width="5" height="37" fill="#30ffcf"/>
<rect x="453" y="261" width="4" height="37" fill="#00ffff"/>
<rect x="457" y="261" width="5" height="37" fill="#00afff"/>
<rect x="462" y="261" width="5" height="37" fill="#00dfff"/>
<rect x="467" y="261" width="5" height="37" fill="#00ffff"/>
<rect x="472" y="261" width="4" height="37" fill="#30ffcf"/>
<rect x="476" y="261" width="5" height="37" fill="#00ffff"/>
<rect x="481" y="261" width="5" height="37" fill="#0030ff"/>
<rect x="486" y="261" width="5" height="37" fill="#00efff"/>
<rect x="491" y="261" width="4" height="37" fill="#0080ff"/>
<rect x="495" y="261" width="5" height="37" fill="#00ffff"/>
<rect x="500" y="261" width="5" height="37" fill="#20ffdf"/>
<rect x="505" y="261" width="4" height="37" fill="#008fff"/>
<rect x="509" y="261" width="5" height="37" fill="#00efff"/>
<rect x="514" y="261" width="5" height="37" fill="#0020ff"/>
<rect x="519" y="261" width="5" height="37" fill="#60ff9f"/>
<rect x="524" y="261" width="4" height="37" fill="#0020ff"/>
<rect x="528" y="261" width="5" height="37" fill="#0060ff"/>
<rect x="533" y="261" width="5" height="37" fill="#00ffff"/>
<rect x="538" y="261" width="4" height="37" fill="#009fff"/>
<rect x="542" y="261" width="5" height="37" fill="#30ffcf"/>
<rect x="547" y="261" width="5" height="37" fill="#40ffbf"/>
<rect x="552" y="261" width="5" height="37" fill="#ffff00"/>
<rect x="557" y="261" width="4" height="37" fill="#ffdf00"/>
<rect x="561" y="261" width="5" height="37" fill="#00ffff"/>
<rect x="566" y="261" width="5" height="37" fill="#0080ff"/>
<rect x="94" y="298" width="5" height="36" fill="#00cfff"/>
<rect x="99" y="298" width="5" height="36" fill="#00ffff"/>
<rect x="104" y="298" width="4" height="36" fill="#009fff"/>
<rect x="108" y="298" width="5" height="36" fill="#009fff"/>
<rect x="113" y="298" width="5" height="36" fill="#008fff"/>
<rect x="118" y="298" width="5" height="36" fill="#00bfff"/>
<rect x="123" y="298" width="4" height="36" fill="#00efff"/>
<rect x="127" y="298" width="5" height="36" fill="#008fff"/>
<rect x="132" y="298" width="5" height="36" fill="#00ffff"/>
<rect x="137" y="298" width="4" height="36" fill="#0060ff"/>
<rect x="141" y="298" width="5" height="36" fill="#00cfff"/>
<rect x="146" y="298" width="5" height="36" fill="#00ffff"/>
<rect x="151" y="298" width="5" height="36" fill="#0050ff"/>
<rect x="156" y="298" width="4" height="36" fill="#00bfff"/>
<rect x="160" y="298" width="5" height="36" fill="#20ffdf"/>
<rect x="165" y="298" width="5" height="36" fill="#00cfff"/>
<rect x="170" y="298" width="4" height="36" fill="#009fff"/>
<rect x="174" y="298" width="5" height="36" fill="#009fff"/>
<rect x="179" y="298" width="5" height="36" fill="#009fff"/>
<rect x="184" y="298" width="5" height="36" fill="#50ffaf"/>
<rect x="189" y="298" width="4" height="36" fill="#008fff"/>
<rect x="193" y="298" width="5" height="36" fill="#008fff"/>
<rect x="198" y="298" width="5" height="36" fill="#008fff"/>
<rect x="203" y="298" width="4" height="36" fill="#00bfff"/>
<rect x="207" y="298" width="5" height="36" fill="#00efff"/>
<rect x="212" y="298" width="5" height="36" fill="#008fff"/>
<rect x="217" y="298" width="5" height="36" fill="#00cfff"/>
<rect x="222" y="298" width="4" height="36" fill="#00cfff"/>
<rect x="226" y="298" width="5" height="36" fill="#00bfff"/>
<rect x="231" y="298" width="5" height="36" fill="#00bfff"/>
<rect x="236" y="298" width="5" height="36" fill="#008fff"/>
<rect x="241" y="298" width="4" height="36" fill="#00afff"/>
<rect x="245" y="298" width="5" height="36" fill="#00efff"/>
<rect x="250" y="298" width="5" height="36" fill="#00cfff"/>
<rect x="255" y="298" width="4" height="36" fill="#00cfff"/>
<rect x="259" y="298" width="5" height="36" fill="#00bfff"/>
<rect x="264" y="298" width="5" height="36" fill="#009fff"/>
<rect x="269" y="298" width="5" height="36" fill="#00cfff"/>
<rect x="274" y="298" width="4" height="36" fill="#008fff"/>
<rect x="278" y="298" width="5" height="36" fill="#0080ff"/>
<rect x="283" y="298" width="5" height="36" fill="#00bfff"/>
<rect x="288" y="298" width="4" height="36" fill="#30ffcf"/>
<rect x="292" y="298" width="5" height="36" fill="#60ff9f"/>
<rect x="297" y="298" width="5" height="36" fill="#20ffdf"/>
<rect x="302" y="298" width="5" height="36" fill="#009fff"/>
<rect x="307" y="298" width="4" height="36" fill="#009fff"/>
<rect x="311" y="298" width="5" height="36" fill="#0070ff"/>
<rect x="316" y="298" width="5" height="36" fill="#00afff"/>
<rect x="321" y="298" width="4" height="36" fill="#00bfff"/>
<rect x="325" y="298" width="5" height="36" fill="#00ffff"/>
<rect x="330" y="298" width="5" height="36" fill="#00cfff"/>
<rect x="335" y="298" width="5" height="36" fill="#60ff9f"/>
<rect x="340" y="298" width="4" height="36" fill="#00efff"/>
<rect x="344" y="298" width="5" height="36" fill="#009fff"/>
<rect x="349" y="298" width="5" height="36" fill="#009fff"/>
<rect x="354" y="298" width="4" height="36" fill="#40ffbf"/>
<rect x="358" y="298" width="5" height="36" fill="#cfff30"/>
<rect x="363" y="298" width="5" height="36" fill="#009fff"/>
<rect x="368" y="298" width="5" height="36" fill="#30ffcf"/>
<rect x="373" y="298" width="4" height="36" fill="#00bfff"/>
<rect x="377" y="298" width="5" height="36" fill="#20ffdf"/>
<rect x="382" y="298" width="5" height="36" fill="#60ff9f"/>
<rect x="387" y="298" width="4" height="36" fill="#60ff9f"/>
<rect x="391" y="298" width="5" height="36" fill="#008fff"/>
<rect x="396" y="298" width="5" height="36" fill="#0030ff"/>
<rect x="401" y="298" width="5" height="36" fill="#00cfff"/>
<rect x="406" y="298" width="4" height="36" fill="#0040ff"/>
<rect x="410" y="298" width="5" height="36" fill="#009fff"/>
<rect x="415" y="298" width="5" height="36" fill="#009fff"/>
<rect x="420" y="298" width="4" height="36" fill="#0060ff"/>
<rect x="424" y="298" width="5" height="36" fill="#00dfff"/>
<rect x="429" y="298" width="5" height="36" fill="#009fff"/>
<rect x="434" y="298" width="5" height="36" fill="#0070ff"/>
<rect x="439" y="298" width="4" height="36" fill="#00afff"/>
<rect x="443" y="298" width="5" height="36" fill="#0030ff"/>
<rect x="448" y="298" width="5" height="36" fill="#afff50"/>
<rect x="453" y="298" width="4" height="36" fill="#0060ff"/>
<rect x="457" y="298" width="5" height="36" fill="#00008f"/>
<rect x="462" y="298" width="5" height="36" fill="#0000ff"/>
<rect x="467" y="298" width="5" height="36" fill="#30ffcf"/>
<rect x="472" y="298" width="4" height="36" fill="#70ff8f"/>
<rect x="476" y="298" width="5" height="36" fill="#00bfff"/>
<rect x="481" y="298" width="5" height="36" fill="#00ffff"/>
<rect x="486" y="298" width="5" height="36" fill="#20ffdf"/>
<rect x="491" y="298" width="4" height="36" fill="#20ffdf"/>
<rect x="495" y="298" width="5" height="36" fill="#00cfff"/>
<rect x="500" y="298" width="5" height="36" fill="#20ffdf"/>
<rect x="505" y="298" width="4" height="36" fill="#00bfff"/>
<rect x="509" y="298" width="5" height="36" fill="#00cfff"/>
<rect x="514" y="298" width="5" height="36" fill="#009fff"/>
<rect x="519" y="298" width="5" height="36" fill="#80ff80"/>
<rect x="524" y="298" width="4" height="36" fill="#0060ff"/>
<rect x="528" y="298" width="5" height="36" fill="#0080ff"/>
<rect x="533" y="298" width="5" height="36" fill="#0040ff"/>
<rect x="538" y="298" width="4" height="36" fill="#00efff"/>
<rect x="542" y="298" width="5" height="36" fill="#20ffdf"/>
<rect x="547" y="298" width="5" height="36" fill="#008fff"/>
<rect x="552" y="298" width="5" height="36" fill="#ff9f00"/>
<rect x="557" y="298" width="4" height="36" fill="#00cfff"/>
<rect x="561" y="298" width="5" height="36" fill="#0070ff"/>
<rect x="566" y="298" width="5" height="36" fill="#0070ff"/>
<rect x="94" y="334" width="5" height="37" fill="#008fff"/>
<rect x="99" y="334" width="5" height="37" fill="#00ffff"/>
<rect x="104" y="334" width="4" height="37" fill="#20ffdf"/>
<rect x="108" y="334" width="5" height="37" fill="#50ffaf"/>
<rect x="113" y="334" width="5" height="37" fill="#00ffff"/>
<rect x="118" y="334" width="5" height="37" fill="#50ffaf"/>
<rect x="123" y="334" width="4" height="37" fill="#0080ff"/>
<rect x="127" y="334" width="5" height="37" fill="#20ffdf"/>
<rect x="132" y="334" width="5" height="37" fill="#00dfff"/>
<rect x="137" y="334" width="4" height="37" fill="#20ffdf"/>
<rect x="141" y="334" width="5" height="37" fill="#00ffff"/>
<rect x="146" y="334" width="5" height="37" fill="#00bfff"/>
<rect x="151" y="334" width="5" height="37" fill="#50ffaf"/>
<rect x="156" y="334" width="4" height="37" fill="#70ff8f"/>
<rect x="160" y="334" width="5" height="37" fill="#00cfff"/>
<rect x="165" y="334" width="5" height="37" fill="#00ffff"/>
<rect x="170" y="334" width="4" height="37" fill="#0080ff"/>
<rect x="174" y="334" width="5" height="37" fill="#00ffff"/>
<rect x="179" y="334" width="5" height="37" fill="#30ffcf"/>
<rect x="184" y="334" width="5" height="37" fill="#00cfff"/>
<rect x="189" y="334" width="4" height="37" fill="#20ffdf"/>
<rect x="193" y="334" width="5" height="37" fill="#00cfff"/>
<rect x="198" y="334" width="5" height="37" fill="#00ffff"/>
<rect x="203" y="334" width="4" height="37" fill="#60ff9f"/>
<rect x="207" y="334" width="5" height="37" fill="#00cfff"/>
<rect x="212" y="334" width="5" height="37" fill="#00bfff"/>
<rect x="217" y="334" width="5" height="37" fill="#00ffff"/>
<rect x="222" y="334" width="4" height="37" fill="#00bfff"/>
<rect x="226" y="334" width="5" height="37" fill="#008fff"/>
<rect x="231" y="334" width="5" height="37" fill="#0030ff"/>
<rect x="236" y="334" width="5" height="37" fill="#009fff"/>
<rect x="241" y="334" width="4" height="37" fill="#009fff"/>
<rect x="245" y="334" width="5" height="37" fill="#00ffff"/>
<rect x="250" y="334" width="5" height="37" fill="#00cfff"/>
<rect x="255" y="334" width="4" height="37" fill="#00efff"/>
<rect x="259" y="334" width="5" height="37" fill="#0080ff"/>
<rect x="264" y="334" width="5" height="37" fill="#0080ff"/>
<rect x="269" y="334" width="5" height="37" fill="#0020ff"/>
<rect x="274" y="334" width="4" height="37" fill="#009fff"/>
<rect x="278" y="334" width="5" height="37" fill="#00ffff"/>
<rect x="283" y="334" width="5" height="37" fill="#00afff"/>
<rect x="288" y="334" width="4" height="37" fill="#60ff9f"/>
<rect x="292" y="334" width="5" height="37" fill="#009fff"/>
<rect x="297" y="334" width="5" height="37" fill="#00efff"/>
<rect x="302" y="334" width="5" height="37" fill="#00dfff"/>
<rect x="307" y="334" width="4" height="37" fill="#00efff"/>
<rect x="311" y="334" width="5" height="37" fill="#0080ff"/>
<rect x="316" y="334" width="5" height="37" fill="#00ffff"/>
<rect x="321" y="334" width="4" height="37" fill="#009fff"/>
<rect x="325" y="334" width="5" height="37" fill="#00cfff"/>
<rect x="330" y="334" width="5" height="37" fill="#009fff"/>
<rect x="335" y="334" width="5" height="37" fill="#50ffaf"/>
<rect x="340" y="334" width="4" height="37" fill="#0080ff"/>
<rect x="344" y="334" width="5" height="37" fill="#008fff"/>
<rect x="349" y="334" width="5" height="37" fill="#009fff"/>
<rect x="354" y="334" width="4" height="37" fill="#60ff9f"/>
<rect x="358" y="334" width="5" height="37" fill="#0010ff"/>
<rect x="363" y="334" width="5" height="37" fill="#008fff"/>
<rect x="368" y="334" width="5" height="37" fill="#00ffff"/>
<rect x="373" y="334" width="4" height="37" fill="#009fff"/>
<rect x="377" y="334" width="5" height="37" fill="#00afff"/>
<rect x="382" y="334" width="5" height="37" fill="#10ffef"/>
<rect x="387" y="334" width="4" height="37" fill="#009fff"/>
<rect x="391" y="334" width="5" height="37" fill="#60ff9f"/>
<rect x="396" y="334" width="5" height="37" fill="#40ffbf"/>
<rect x="401" y="334" width="5" height="37" fill="#00ffff"/>
<rect x="406" y="334" width="4" height="37" fill="#00cfff"/>
<rect x="410" y="334" width="5" height="37" fill="#00efff"/>
<rect x="415" y="334" width="5" height="37" fill="#008fff"/>
<rect x="420" y="334" width="4" height="37" fill="#0050ff"/>
<rect x="424" y="334" width="5" height="37" fill="#60ff9f"/>
<rect x="429" y="334" width="5" height="37" fill="#30ffcf"/>
<rect x="434" y="334" width="5" height="37" fill="#009fff"/>
<rect x="439" y="334" width="4" height="37" fill="#afff50"/>
<rect x="443" y="334" width="5" height="37" fill="#30ffcf"/>
<rect x="448" y="334" width="5" height="37" fill="#20ffdf"/>
<rect x="453" y="334" width="4" height="37" fill="#00bfff"/>
<rect x="457" y="334" width="5" height="37" fill="#afff50"/>
<rect x="462" y="334" width="5" height="37" fill="#00ffff"/>
<rect x="467" y="334" width="5" height="37" fill="#0030ff"/>
<rect x="472" y="334" width="4" height="37" fill="#0050ff"/>
<rect x="476" y="334" width="5" height="37" fill="#00afff"/>
<rect x="481" y="334" width="5" height="37" fill="#00efff"/>
<rect x="486" y="334" width="5" height="37" fill="#00afff"/>
<rect x="491" y="334" width="4" height="37" fill="#00afff"/>
<rect x="495" y="334" width="5" height="37" fill="#0040ff"/>
<rect x="500" y="334" width="5" height="37" fill="#00ffff"/>
<rect x="505" y="334" width="4" height="37" fill="#009fff"/>
<rect x="509" y="334" width="5" height="37" fill="#00ffff"/>
<rect x="514" y="334" width="5" height="37" fill="#00bfff"/>
<rect x="519" y="334" width="5" height="37" fill="#0080ff"/>
<rect x="524" y="334" width="4" height="37" fill="#40ffbf"/>
<rect x="528" y="334" width="5" height="37" fill="#10ffef"/>
<rect x="533" y="334" width="5" height="37" fill="#0030ff"/>
<rect x="538" y="334" width="4" height="37" fill="#00cfff"/>
<rect x="542" y="334" width="5" height="37" fill="#20ffdf"/>
<rect x="547" y="334" width="5" height="37" fill="#00dfff"/>
<rect x="552" y="334" width="5" height="37" fill="#00ffff"/>
<rect x="557" y="334" width="4" height="37" fill="#ff8f00"/>
<rect x="561" y="334" width="5" height="37" fill="#10ffef"/>
<rect x="566" y="334" width="5" height="37" fill="#0020ff"/>
<rect x="94" y="371" width="5" height="37" fill="#008fff"/>
<rect x="99" y="371" width="5" height="37" fill="#00cfff"/>
<rect x="104" y="371" width="4" height="37" fill="#00dfff"/>
<rect x="108" y="371" width="5" height="37" fill="#00cfff"/>
<rect x="113" y="371" width="5" height="37" fill="#00ffff"/>
<rect x="118" y="371" width="5" height="37" fill="#008fff"/>
<rect x="123" y="371" width="4" height="37" fill="#00cfff"/>
<rect x="127" y="371" width="5" height="37" fill="#008fff"/>
<rect x="132" y="371" width="5" height="37" fill="#008fff"/>
<rect x="137" y="371" width="4" height="37" fill="#00ffff"/>
<rect x="141" y="371" width="5" height="37" fill="#0050ff"/>
<rect x="146" y="371" width="5" height="37" fill="#009fff"/>
<rect x="151" y="371" width="5" height="37" fill="#009fff"/>
<rect x="156" y="371" width="4" height="37" fill="#00bfff"/>
<rect x="160" y="371" width="5" height="37" fill="#30ffcf"/>
<rect x="165" y="371" width="5" height="37" fill="#00dfff"/>
<rect x="170" y="371" width="4" height="37" fill="#009fff"/>
<rect x="174" y="371" width="5" height="37" fill="#00bfff"/>
<rect x="179" y="371" width="5" height="37" fill="#00cfff"/>
<rect x="184" y="371" width="5" height="37" fill="#20ffdf"/>
<rect x="189" y="371" width="4" height="37" fill="#009fff"/>
<rect x="193" y="371" width="5" height="37" fill="#0080ff"/>
<rect x="198" y="371" width="5" height="37" fill="#00afff"/>
<rect x="203" y="371" width="4" height="37" fill="#008fff"/>
<rect x="207" y="371" width="5" height="37" fill="#008fff"/>
<rect x="212" y="371" width="5" height="37" fill="#20ffdf"/>
<rect x="217" y="371" width="5" height="37" fill="#10ffef"/>
<rect x="222" y="371" width="4" height="37" fill="#009fff"/>
<rect x="226" y="371" width="5" height="37" fill="#00dfff"/>
<rect x="231" y="371" width="5" height="37" fill="#ffef00"/>
<rect x="236" y="371" width="5" height="37" fill="#00cfff"/>
<rect x="241" y="371" width="4" height="37" fill="#009fff"/>
<rect x="245" y="371" width="5" height="37" fill="#00dfff"/>
<rect x="250" y="371" width="5" height="37" fill="#009fff"/>
<rect x="255" y="371" width="4" height="37" fill="#00ffff"/>
<rect x="259" y="371" width="5" height="37" fill="#009fff"/>
<rect x="264" y="371" width="5" height="37" fill="#00ffff"/>
<rect x="269" y="371" width="5" height="37" fill="#009fff"/>
<rect x="274" y="371" width="4" height="37" fill="#00dfff"/>
<rect x="278" y="371" width="5" height="37" fill="#008fff"/>
<rect x="283" y="371" width="5" height="37" fill="#00bfff"/>
<rect x="288" y="371" width="4" height="37" fill="#20ffdf"/>
<rect x="292" y="371" width="5" height="37" fill="#00cfff"/>
<rect x="297" y="371" width="5" height="37" fill="#00bfff"/>
<rect x="302" y="371" width="5" height="37" fill="#00ffff"/>
<rect x="307" y="371" width="4" height="37" fill="#00cfff"/>
<rect x="311" y="371" width="5" height="37" fill="#00cfff"/>
<rect x="316" y="371" width="5" height="37" fill="#0070ff"/>
<rect x="321" y="371" width="4" height="37" fill="#00bfff"/>
<rect x="325" y="371" width="5" height="37" fill="#0080ff"/>
<rect x="330" y="371" width="5" height="37" fill="#008fff"/>
<rect x="335" y="371" width="5" height="37" fill="#009fff"/>
<rect x="340" y="371" width="4" height="37" fill="#0060ff"/>
<rect x="344" y="371" width="5" height="37" fill="#009fff"/>
<rect x="349" y="371" width="5" height="37" fill="#00efff"/>
<rect x="354" y="371" width="4" height="37" fill="#20ffdf"/>
<rect x="358" y="371" width="5" height="37" fill="#0050ff"/>
<rect x="363" y="371" width="5" height="37" fill="#0000ef"/>
<rect x="368" y="371" width="5" height="37" fill="#00cfff"/>
<rect x="373" y="371" width="4" height="37" fill="#00bfff"/>
<rect x="377" y="371" width="5" height="37" fill="#0040ff"/>
<rect x="382" y="371" width="5" height="37" fill="#20ffdf"/>
<rect x="387" y="371" width="4" height="37" fill="#009fff"/>
<rect x="391" y="371" width="5" height="37" fill="#00bfff"/>
<rect x="396" y="371" width="5" height="37" fill="#0030ff"/>
<rect x="401" y="371" width="5" height="37" fill="#0060ff"/>
<rect x="406" y="371" width="4" height="37" fill="#10ffef"/>
<rect x="410" y="371" width="5" height="37" fill="#10ffef"/>
<rect x="415" y="371" width="5" height="37" fill="#30ffcf"/>
<rect x="420" y="371" width="4" height="37" fill="#30ffcf"/>
<rect x="424" y="371" width="5" height="37" fill="#10ffef"/>
<rect x="429" y="371" width="5" height="37" fill="#00dfff"/>
<rect x="434" y="371" width="5" height="37" fill="#00cfff"/>
<rect x="439" y="371" width="4" height="37" fill="#0050ff"/>
<rect x="443" y="371" width="5" height="37" fill="#50ffaf"/>
<rect x="448" y="371" width="5" height="37" fill="#0080ff"/>
<rect x="453" y="371" width="4" height="37" fill="#20ffdf"/>
<rect x="457" y="371" width="5" height="37" fill="#00bfff"/>
<rect x="462" y="371" width="5" height="37" fill="#008fff"/>
<rect x="467" y="371" width="5" height="37" fill="#0030ff"/>
<rect x="472" y="371" width="4" height="37" fill="#008fff"/>
<rect x="476" y="371" width="5" height="37" fill="#0000df"/>
<rect x="481" y="371" width="5" height="37" fill="#00ffff"/>
<rect x="486" y="371" width="5" height="37" fill="#008fff"/>
<rect x="491" y="371" width="4" height="37" fill="#00efff"/>
<rect x="495" y="371" width="5" height="37" fill="#009fff"/>
<rect x="500" y="371" width="5" height="37" fill="#20ffdf"/>
<rect x="505" y="371" width="4" height="37" fill="#0040ff"/>
<rect x="509" y="371" width="5" height="37" fill="#0040ff"/>
<rect x="514" y="371" width="5" height="37" fill="#00dfff"/>
<rect x="519" y="371" width="5" height="37" fill="#00cfff"/>
<rect x="524" y="371" width="4" height="37" fill="#00efff"/>
<rect x="528" y="371" width="5" height="37" fill="#00cfff"/>
<rect x="533" y="371" width="5" height="37" fill="#00cfff"/>
<rect x="538" y="371" width="4" height="37" fill="#ff4000"/>
<rect x="542" y="371" width="5" height="37" fill="#800000"/>
<rect x="547" y="371" width="5" height="37" fill="#00cfff"/>
<rect x="552" y="371" width="5" height="37" fill="#009fff"/>
<rect x="557" y="371" width="4" height="37" fill="#ff5000"/>
<rect x="561" y="371" width="5" height="37" fill="#70ff8f"/>
<rect x="566" y="371" width="5" height="37" fill="#20ffdf"/>
<rect x="94" y="408" width="5" height="36" fill="#009fff"/>
<rect x="99" y="408" width="5" height="36" fill="#009fff"/>
<rect x="104" y="408" width="4" height="36" fill="#009fff"/>
<rect x="108" y="408" width="5" height="36" fill="#008fff"/>
<rect x="113" y="408" width="5" height="36" fill="#00efff"/>
<rect x="118" y="408" width="5" height="36" fill="#00ffff"/>
<rect x="123" y="408" width="4" height="36" fill="#00bfff"/>
<rect x="127" y="408" width="5" height="36" fill="#009fff"/>
<rect x="132" y="408" width="5" height="36" fill="#00ffff"/>
<rect x="137" y="408" width="4" height="36" fill="#009fff"/>
<rect x="141" y="408" width="5" height="36" fill="#009fff"/>
<rect x="146" y="408" width="5" height="36" fill="#00ffff"/>
<rect x="151" y="408" width="5" height="36" fill="#00cfff"/>
<rect x="156" y="408" width="4" height="36" fill="#70ff8f"/>
<rect x="160" y="408" width="5" height="36" fill="#00ffff"/>
<rect x="165" y="408" width="5" height="36" fill="#00cfff"/>
<rect x="170" y="408" width="4" height="36" fill="#00ffff"/>
<rect x="174" y="408" width="5" height="36" fill="#009fff"/>
<rect x="179" y="408" width="5" height="36" fill="#00efff"/>
<rect x="184" y="408" width="5" height="36" fill="#20ffdf"/>
<rect x="189" y="408" width="4" height="36" fill="#0040ff"/>
<rect x="193" y="408" width="5" height="36" fill="#009fff"/>
<rect x="198" y="408" width="5" height="36" fill="#00cfff"/>
<rect x="203" y="408" width="4" height="36" fill="#00efff"/>
<rect x="207" y="408" width="5" height="36" fill="#00bfff"/>
<rect x="212" y="408" width="5" height="36" fill="#008fff"/>
<rect x="217" y="408" width="5" height="36" fill="#60ff9f"/>
<rect x="222" y="408" width="4" height="36" fill="#009fff"/>
<rect x="226" y="408" width="5" height="36" fill="#009fff"/>
<rect x="231" y="408" width="5" height="36" fill="#0010ff"/>
<rect x="236" y="408" width="5" height="36" fill="#00efff"/>
<rect x="241" y="408" width="4" height="36" fill="#00cfff"/>
<rect x="245" y="408" width="5" height="36" fill="#009fff"/>
<rect x="250" y="408" width="5" height="36" fill="#0060ff"/>
<rect x="255" y="408" width="4" height="36" fill="#00bfff"/>
<rect x="259" y="408" width="5" height="36" fill="#008fff"/>
<rect x="264" y="408" width="5" height="36" fill="#00afff"/>
<rect x="269" y="408" width="5" height="36" fill="#00bfff"/>
<rect x="274" y="408" width="4" height="36" fill="#20ffdf"/>
<rect x="278" y="408" width="5" height="36" fill="#008fff"/>
<rect x="283" y="408" width="5" height="36" fill="#008fff"/>
<rect x="288" y="408" width="4" height="36" fill="#20ffdf"/>
<rect x="292" y="408" width="5" height="36" fill="#0080ff"/>
<rect x="297" y="408" width="5" height="36" fill="#00afff"/>
<rect x="302" y="408" width="5" height="36" fill="#0070ff"/>
<rect x="307" y="408" width="4" height="36" fill="#00efff"/>
<rect x="311" y="408" width="5" height="36" fill="#0080ff"/>
<rect x="316" y="408" width="5" height="36" fill="#009fff"/>
<rect x="321" y="408" width="4" height="36" fill="#00efff"/>
<rect x="325" y="408" width="5" height="36" fill="#00efff"/>
<rect x="330" y="408" width="5" height="36" fill="#30ffcf"/>
<rect x="335" y="408" width="5" height="36" fill="#00efff"/>
<rect x="340" y="408" width="4" height="36" fill="#50ffaf"/>
<rect x="344" y="408" width="5" height="36" fill="#00bfff"/>
<rect x="349" y="408" width="5" height="36" fill="#009fff"/>
<rect x="354" y="408" width="4" height="36" fill="#008fff"/>
<rect x="358" y="408" width="5" height="36" fill="#30ffcf"/>
<rect x="363" y="408" width="5" height="36" fill="#50ffaf"/>
<rect x="368" y="408" width="5" height="36" fill="#0060ff"/>
<rect x="373" y="408" width="4" height="36" fill="#00cfff"/>
<rect x="377" y="408" width="5" height="36" fill="#009fff"/>
<rect x="382" y="408" width="5" height="36" fill="#00ffff"/>
<rect x="387" y="408" width="4" height="36" fill="#30ffcf"/>
<rect x="391" y="408" width="5" height="36" fill="#50ffaf"/>
<rect x="396" y="408" width="5" height="36" fill="#20ffdf"/>
<rect x="401" y="408" width="5" height="36" fill="#00cfff"/>
<rect x="406" y="408" width="4" height="36" fill="#afff50"/>
<rect x="410" y="408" width="5" height="36" fill="#00afff"/>
<rect x="415" y="408" width="5" height="36" fill="#0080ff"/>
<rect x="420" y="408" width="4" height="36" fill="#00ffff"/>
<rect x="424" y="408" width="5" height="36" fill="#20ffdf"/>
<rect x="429" y="408" width="5" height="36" fill="#20ffdf"/>
<rect x="434" y="408" width="5" height="36" fill="#00cfff"/>
<rect x="439" y="408" width="4" height="36" fill="#20ffdf"/>
<rect x="443" y="408" width="5" height="36" fill="#009fff"/>
<rect x="448" y="408" width="5" height="36" fill="#00bfff"/>
<rect x="453" y="408" width="4" height="36" fill="#00ffff"/>
<rect x="457" y="408" width="5" height="36" fill="#50ffaf"/>
<rect x="462" y="408" width="5" height="36" fill="#afff50"/>
<rect x="467" y="408" width="5" height="36" fill="#50ffaf"/>
<rect x="472" y="408" width="4" height="36" fill="#30ffcf"/>
<rect x="476" y="408" width="5" height="36" fill="#50ffaf"/>
<rect x="481" y="408" width="5" height="36" fill="#00dfff"/>
<rect x="486" y="408" width="5" height="36" fill="#00ffff"/>
<rect x="491" y="408" width="4" height="36" fill="#00cfff"/>
<rect x="495" y="408" width="5" height="36" fill="#20ffdf"/>
<rect x="500" y="408" width="5" height="36" fill="#30ffcf"/>
<rect x="505" y="408" width="4" height="36" fill="#ff7000"/>
<rect x="509" y="408" width="5" height="36" fill="#00ffff"/>
<rect x="514" y="408" width="5" height="36" fill="#20ffdf"/>
<rect x="519" y="408" width="5" height="36" fill="#009fff"/>
<rect x="524" y="408" width="4" height="36" fill="#009fff"/>
<rect x="528" y="408" width="5" height="36" fill="#0080ff"/>
<rect x="533" y="408" width="5" height="36" fill="#00bfff"/>
<rect x="538" y="408" width="4" height="36" fill="#009fff"/>
<rect x="542" y="408" width="5" height="36" fill="#50ffaf"/>
<rect x="547" y="408" width="5" height="36" fill="#60ff9f"/>
<rect x="552" y="408" width="5" height="36" fill="#60ff9f"/>
<rect x="557" y="408" width="4" height="36" fill="#40ffbf"/>
<rect x="561" y="408" width="5" height="36" fill="#0040ff"/>
<rect x="566" y="408" width="5" height="36" fill="#20ffdf"/>
<rect x="94" y="444" width="5" height="37" fill="#20ffdf"/>
<rect x="99" y="444" width="5" height="37" fill="#50ffaf"/>
<rect x="104" y="444" width="4" height="37" fill="#00ffff"/>
<rect x="108" y="444" width="5" height="37" fill="#20ffdf"/>
<rect x="113" y="444" width="5" height="37" fill="#30ffcf"/>
<rect x="118" y="444" width="5" height="37" fill="#50ffaf"/>
<rect x="123" y="444" width="4" height="37" fill="#00ffff"/>
<rect x="127" y="444" width="5" height="37" fill="#70ff8f"/>
<rect x="132" y="444" width="5" height="37" fill="#00ffff"/>
<rect x="137" y="444" width="4" height="37" fill="#00cfff"/>
<rect x="141" y="444" width="5" height="37" fill="#00bfff"/>
<rect x="146" y="444" width="5" height="37" fill="#00efff"/>
<rect x="151" y="444" width="5" height="37" fill="#008fff"/>
<rect x="156" y="444" width="4" height="37" fill="#30ffcf"/>
<rect x="160" y="444" width="5" height="37" fill="#00ffff"/>
<rect x="165" y="444" width="5" height="37" fill="#0070ff"/>
<rect x="170" y="444" width="4" height="37" fill="#00ffff"/>
<rect x="174" y="444" width="5" height="37" fill="#20ffdf"/>
<rect x="179" y="444" width="5" height="37" fill="#00ffff"/>
<rect x="184" y="444" width="5" height="37" fill="#20ffdf"/>
<rect x="189" y="444" width="4" height="37" fill="#00dfff"/>
<rect x="193" y="444" width="5" height="37" fill="#00ffff"/>
<rect x="198" y="444" width="5" height="37" fill="#20ffdf"/>
<rect x="203" y="444" width="4" height="37" fill="#00ffff"/>
<rect x="207" y="444" width="5" height="37" fill="#20ffdf"/>
<rect x="212" y="444" width="5" height="37" fill="#008fff"/>
<rect x="217" y="444" width="5" height="37" fill="#60ff9f"/>
<rect x="222" y="444" width="4" height="37" fill="#20ffdf"/>
<rect x="226" y="444" width="5" height="37" fill="#20ffdf"/>
<rect x="231" y="444" width="5" height="37" fill="#20ffdf"/>
<rect x="236" y="444" width="5" height="37" fill="#00cfff"/>
<rect x="241" y="444" width="4" height="37" fill="#00ffff"/>
<rect x="245" y="444" width="5" height="37" fill="#00ffff"/>
<rect x="250" y="444" width="5" height="37" fill="#009fff"/>
<rect x="255" y="444" width="4" height="37" fill="#10ffef"/>
<rect x="259" y="444" width="5" height="37" fill="#0080ff"/>
<rect x="264" y="444" width="5" height="37" fill="#50ffaf"/>
<rect x="269" y="444" width="5" height="37" fill="#00ffff"/>
<rect x="274" y="444" width="4" height="37" fill="#00ffff"/>
<rect x="278" y="444" width="5" height="37" fill="#20ffdf"/>
<rect x="283" y="444" width="5" height="37" fill="#00cfff"/>
<rect x="288" y="444" width="4" height="37" fill="#00ffff"/>
<rect x="292" y="444" width="5" height="37" fill="#009fff"/>
<rect x="297" y="444" width="5" height="37" fill="#00ffff"/>
<rect x="302" y="444" width="5" height="37" fill="#0080ff"/>
<rect x="307" y="444" width="4" height="37" fill="#00efff"/>
<rect x="311" y="444" width="5" height="37" fill="#00ffff"/>
<rect x="316" y="444" width="5" height="37" fill="#00dfff"/>
<rect x="321" y="444" width="4" height="37" fill="#20ffdf"/>
<rect x="325" y="444" width="5" height="37" fill="#00cfff"/>
<rect x="330" y="444" width="5" height="37" fill="#008fff"/>
<rect x="335" y="444" width="5" height="37" fill="#00efff"/>
<rect x="340" y="444" width="4" height="37" fill="#00efff"/>
<rect x="344" y="444" width="5" height="37" fill="#009fff"/>
<rect x="349" y="444" width="5" height="37" fill="#00efff"/>
<rect x="354" y="444" width="4" height="37" fill="#00cfff"/>
<rect x="358" y="444" width="5" height="37" fill="#00ffff"/>
<rect x="363" y="444" width="5" height="37" fill="#00afff"/>
<rect x="368" y="444" width="5" height="37" fill="#20ffdf"/>
<rect x="373" y="444" width="4" height="37" fill="#00ffff"/>
<rect x="377" y="444" width="5" height="37" fill="#00bfff"/>
<rect x="382" y="444" width="5" height="37" fill="#00bfff"/>
<rect x="387" y="444" width="4" height="37" fill="#30ffcf"/>
<rect x="391" y="444" width="5" height="37" fill="#00dfff"/>
<rect x="396" y="444" width="5" height="37" fill="#8fff70"/>
<rect x="401" y="444" width="5" height="37" fill="#60ff9f"/>
<rect x="406" y="444" width="4" height="37" fill="#008fff"/>
<rect x="410" y="444" width="5" height="37" fill="#00cfff"/>
<rect x="415" y="444" width="5" height="37" fill="#00ffff"/>
<rect x="420" y="444" width="4" height="37" fill="#afff50"/>
<rect x="424" y="444" width="5" height="37" fill="#0060ff"/>
<rect x="429" y="444" width="5" height="37" fill="#20ffdf"/>
<rect x="434" y="444" width="5" height="37" fill="#008fff"/>
<rect x="439" y="444" width="4" height="37" fill="#bfff40"/>
<rect x="443" y="444" width="5" height="37" fill="#0010ff"/>
<rect x="448" y="444" width="5" height="37" fill="#0030ff"/>
<rect x="453" y="444" width="4" height="37" fill="#00dfff"/>
<rect x="457" y="444" width="5" height="37" fill="#00bfff"/>
<rect x="462" y="444" width="5" height="37" fill="#009fff"/>
<rect x="467" y="444" width="5" height="37" fill="#00ffff"/>
<rect x="472" y="444" width="4" height="37" fill="#00ffff"/>
<rect x="476" y="444" width="5" height="37" fill="#70ff8f"/>
<rect x="481" y="444" width="5" height="37" fill="#0040ff"/>
<rect x="486" y="444" width="5" height="37" fill="#00cfff"/>
<rect x="491" y="444" width="4" height="37" fill="#0080ff"/>
<rect x="495" y="444" width="5" height="37" fill="#009fff"/>
<rect x="500" y="444" width="5" height="37" fill="#00ffff"/>
<rect x="505" y="444" width="4" height="37" fill="#00ffff"/>
<rect x="509" y="444" width="5" height="37" fill="#00ffff"/>
<rect x="514" y="444" width="5" height="37" fill="#00ffff"/>
<rect x="519" y="444" width="5" height="37" fill="#0030ff"/>
<rect x="524" y="444" width="4" height="37" fill="#20ffdf"/>
<rect x="528" y="444" width="5" height="37" fill="#00ffff"/>
<rect x="533" y="444" width="5" height="37" fill="#00cfff"/>
<rect x="538" y="444" width="4" height="37" fill="#ffcf00"/>
<rect x="542" y="444" width="5" height="37" fill="#ffff00"/>
<rect x="547" y="444" width="5" height="37" fill="#ffff00"/>
<rect x="552" y="444" width="5" height="37" fill="#bfff40"/>
<rect x="557" y="444" width="4" height="37" fill="#00ffff"/>
<rect x="561" y="444" width="5" height="37" fill="#20ffdf"/>
<rect x="566" y="444" width="5" height="37" fill="#00cfff"/></g>
<g><rect x="599.30" y="41.00" width="41.30" height="7.17" fill="#800000"/>
<rect x="599.30" y="47.88" width="41.30" height="7.17" fill="#8f0000"/>
<rect x="599.30" y="54.75" width="41.30" height="7.17" fill="#9f0000"/>
<rect x="599.30" y="61.62" width="41.30" height="7.17" fill="#af0000"/>
<rect x="599.30" y="68.50" width="41.30" height="7.17" fill="#bf0000"/>
<rect x="599.30" y="75.38" width="41.30" height="7.17" fill="#cf0000"/>
<rect x="599.30" y="82.25" width="41.30" height="7.17" fill="#df0000"/>
<rect x="599.30" y="89.12" width="41.30" height="7.17" fill="#ef0000"/>
<rect x="599.30" y="96.00" width="41.30" height="7.17" fill="#ff0000"/>
<rect x="599.30" y="102.88" width="41.30" height="7.17" fill="#ff1000"/>
<rect x="599.30" y="109.75" width="41.30" height="7.17" fill="#ff2000"/>
<rect x="599.30" y="116.62" width="41.30" height="7.17" fill="#ff3000"/>
<rect x="599.30" y="123.50" width="41.30" height="7.17" fill="#ff4000"/>
<rect x="599.30" y="130.38" width="41.30" height="7.17" fill="#ff5000"/>
<rect x="599.30" y="137.25" width="41.30" height="7.17" fill="#ff6000"/>
<rect x="599.30" y="144.12" width="41.30" height="7.17" fill="#ff7000"/>
<rect x="599.30" y="151.00" width="41.30" height="7.17" fill="#ff8000"/>
<rect x="599.30" y="157.88" width="41.30" height="7.17" fill="#ff8f00"/>
<rect x="599.30" y="164.75" width="41.30" height="7.17" fill="#ff9f00"/>
<rect x="599.30" y="171.62" width="41.30" height="7.17" fill="#ffaf00"/>
<rect x="599.30" y="178.50" width="41.30" height="7.17" fill="#ffbf00"/>
<rect x="599.30" y="185.38" width="41.30" height="7.17" fill="#ffcf00"/>
<rect x="599.30" y="192.25" width="41.30" height="7.17" fill="#ffdf00"/>
<rect x="599.30" y="199.12" width="41.30" height="7.17" fill="#ffef00"/>
<rect x="599.30" y="206.00" width="41.30" height="7.17" fill="#ffff00"/>
<rect x="599.30" y="212.88" width="41.30" height="7.17" fill="#efff10"/>
<rect x="599.30" y="219.75" width="41.30" height="7.17" fill="#dfff20"/>
<rect x="599.30" y="226.62" width="41.30" height="7.17" fill="#cfff30"/>
<rect x="599.30" y="233.50" width="41.30" height="7.17" fill="#bfff40"/>
<rect x="599.30" y="240.38" width="41.30" height="7.17" fill="#afff50"/>
<rect x="599.30" y="247.25" width="41.30" height="7.17" fill="#9fff60"/>
<rect x="599.30" y="254.12" width="41.30" height="7.17" fill="#8fff70"/>
<rect x="599.30" y="261.00" width="41.30" height="7.17" fill="#80ff80"/>
<rect x="599.30" y="267.88" width="41.30" height="7.17" fill="#70ff8f"/>
<rect x="599.30" y="274.75" width="41.30" height="7.17" fill="#60ff9f"/>
<rect x="599.30" y="281.62" width="41.30" height="7.17" fill="#50ffaf"/>
<rect x="599.30" y="288.50" width="41.30" height="7.17" fill="#40ffbf"/>
<rect x="599.30" y="295.38" width="41.30" height="7.17" fill="#30ffcf"/>
<rect x="599.30" y="302.25" width="41.30" height="7.17" fill="#20ffdf"/>
<rect x="599.30" y="309.12" width="41.30" height="7.17" fill="#10ffef"/>
<rect x="599.30" y="316.00" width="41.30" height="7.17" fill="#00ffff"/>
<rect x="599.30" y="322.88" width="41.30" height="7.17" fill="#00efff"/>
<rect x="599.30" y="329.75" width="41.30" height="7.17" fill="#00dfff"/>
<rect x="599.30" y="336.62" width="41.30" height="7.17" fill="#00cfff"/>
<rect x="599.30" y="343.50" width="41.30" height="7.17" fill="#00bfff"/>
<rect x="599.30" y="350.38" width="41.30" height="7.17" fill="#00afff"/>
<rect x="599.30" y="357.25" width="41.30" height="7.17" fill="#009fff"/>
<rect x="599.30" y="364.12" width="41.30" height="7.17" fill="#008fff"/>
<rect x="599.30" y="371.00" width="41.30" height="7.17" fill="#0080ff"/>
<rect x="599.30" y="377.88" width="41.30" height="7.17" fill="#0070ff"/>
<rect x="599.30" y="384.75" width="41.30" height="7.17" fill="#0060ff"/>
<rect x="599.30" y="391.62" width="41.30" height="7.17" fill="#0050ff"/>
<rect x="599.30" y="398.50" width="41.30" height="7.17" fill="#0040ff"/>
<rect x="599.30" y="405.38" width="41.30" height="7.17" fill="#0030ff"/>
<rect x="599.30" y="412.25" width="41.30" height="7.17" fill="#0020ff"/>
<rect x="599.30" y="419.12" width="41.30" height="7.17" fill="#0010ff"/>
<rect x="599.30" y="426.00" width="41.30" height="7.17" fill="#0000ff"/>
<rect x="599.30" y="432.88" width="41.30" height="7.17" fill="#0000ef"/>
<rect x="599.30" y="439.75" width="41.30" height="7.17" fill="#0000df"/>
<rect x="599.30" y="446.62" width="41.30" height="7.17" fill="#0000cf"/>
<rect x="599.30" y="453.50" width="41.30" height="7.17" fill="#0000bf"/>
<rect x="599.30" y="460.38" width="41.30" height="7.17" fill="#0000af"/>
<rect x="599.30" y="467.25" width="41.30" height="7.17" fill="#00009f"/>
<rect x="599.30" y="474.12" width="41.30" height="7.17" fill="#00008f"/></g>
<g fill="none" stroke="#000" stroke-width="1">
<rect x="94.5" y="41.5" width="477" height="440"/>
<rect x="599.5" y="41.5" width="41" height="440"/>
<path d="M94 96.5h5M571 96.5h-5 M94 169.5h5M571 169.5h-5 M94 242.5h5M571 242.5h-5 M94 316.5h5M571 316.5h-5 M94 389.5h5M571 389.5h-5 M94 462.5h5M571 462.5h-5 M138.5 481v-5M138.5 41v5 M186.5 481v-5M186.5 41v5 M233.5 481v-5M233.5 41v5 M280.5 481v-5M280.5 41v5 M327.5 481v-5M327.5 41v5 M375.5 481v-5M375.5 41v5 M422.5 481v-5M422.5 41v5 M469.5 481v-5M469.5 41v5 M516.5 481v-5M516.5 41v5 M563.5 481v-5M563.5 41v5 M599 67.5h5M640 67.5h-5 M599 114.5h5M640 114.5h-5 M599 162.5h5M640 162.5h-5 M599 209.5h5M640 209.5h-5 M599 256.5h5M640 256.5h-5 M599 304.5h5M640 304.5h-5 M599 351.5h5M640 351.5h-5 M599 399.5h5M640 399.5h-5 M599 446.5h5M640 446.5h-5"/>
</g>
<g fill="#000" font-family="Liberation Sans, sans-serif" shape-rendering="auto"><text x="222.30" y="32.00" font-size="12.30" text-anchor="start" textLength="217.50" lengthAdjust="spacingAndGlyphs" >Unreordered Data (standardized genes)</text>
<text x="248.50" y="511.60" font-size="12.30" text-anchor="start" textLength="165.00" lengthAdjust="spacingAndGlyphs" >G29 Genes ordered by G1(S1)</text>
<text x="11.60" y="62.63" font-size="11.10" text-anchor="start" >461.cel</text>
<text x="11.60" y="99.30" font-size="11.10" text-anchor="start" >527.cel</text>
<text x="11.60" y="135.97" font-size="11.10" text-anchor="start" >222.cel</text>
<text x="11.60" y="172.63" font-size="11.10" text-anchor="start" >1360.cel</text>
<text x="11.60" y="209.30" font-size="11.10" text-anchor="start" >1308.cel</text>
<text x="11.60" y="245.97" font-size="11.10" text-anchor="start" >1437.cel</text>
<text x="11.60" y="282.63" font-size="11.10" text-anchor="start" >345.cel</text>
<text x="11.60" y="319.30" font-size="11.10" text-anchor="start" >528bis.c</text>
<text x="11.60" y="355.97" font-size="11.10" text-anchor="start" >254.cel</text>
<text x="11.60" y="392.63" font-size="11.10" text-anchor="start" >558.cel</text>
<text x="11.60" y="429.30" font-size="11.10" text-anchor="start" >80.cel</text>
<text x="11.60" y="465.97" font-size="11.10" text-anchor="start" >190.cel</text>
<text x="89.80" y="100.40" font-size="12.30" text-anchor="end" >2</text>
<text x="89.80" y="173.73" font-size="12.30" text-anchor="end" >4</text>
<text x="89.80" y="247.07" font-size="12.30" text-anchor="end" >6</text>
<text x="89.80" y="320.40" font-size="12.30" text-anchor="end" >8</text>
<text x="89.80" y="393.73" font-size="12.30" text-anchor="end" >10</text>
<text x="89.80" y="467.07" font-size="12.30" text-anchor="end" >12</text>
<text x="138.20" y="496.00" font-size="12.30" text-anchor="middle" >10</text>
<text x="186.20" y="496.00" font-size="12.30" text-anchor="middle" >20</text>
<text x="233.20" y="496.00" font-size="12.30" text-anchor="middle" >30</text>
<text x="280.20" y="496.00" font-size="12.30" text-anchor="middle" >40</text>
<text x="327.20" y="496.00" font-size="12.30" text-anchor="middle" >50</text>
<text x="375.20" y="496.00" font-size="12.30" text-anchor="middle" >60</text>
<text x="422.20" y="496.00" font-size="12.30" text-anchor="middle" >70</text>
<text x="469.20" y="496.00" font-size="12.30" text-anchor="middle" >80</text>
<text x="516.20" y="496.00" font-size="12.30" text-anchor="middle" >90</text>
<text x="563.20" y="496.00" font-size="12.30" text-anchor="middle" >100</text>
<text x="0" y="0" font-size="12.3" text-anchor="middle" textLength="85.5" lengthAdjust="spacingAndGlyphs" transform="translate(67.0,263.5) rotate(-90)" font-family="Liberation Sans, sans-serif">Samples - S278</text>
<text x="643.30" y="71.07" font-size="12.30" text-anchor="start" >0.2</text>
<text x="643.30" y="118.45" font-size="12.30" text-anchor="start" >0.15</text>
<text x="643.30" y="165.83" font-size="12.30" text-anchor="start" >0.1</text>
<text x="643.30" y="213.22" font-size="12.30" text-anchor="start" >0.05</text>
<text x="643.30" y="260.60" font-size="12.30" text-anchor="start" >0</text>
<text x="642.50" y="307.98" font-size="12.30" text-anchor="start" >-0.05</text>
<text x="642.50" y="355.36" font-size="12.30" text-anchor="start" >-0.1</text>
<text x="642.50" y="402.75" font-size="12.30" text-anchor="start" >-0.15</text>
<text x="642.50" y="450.13" font-size="12.30" text-anchor="start" >-0.2</text></g>
</svg>
</body></html>
